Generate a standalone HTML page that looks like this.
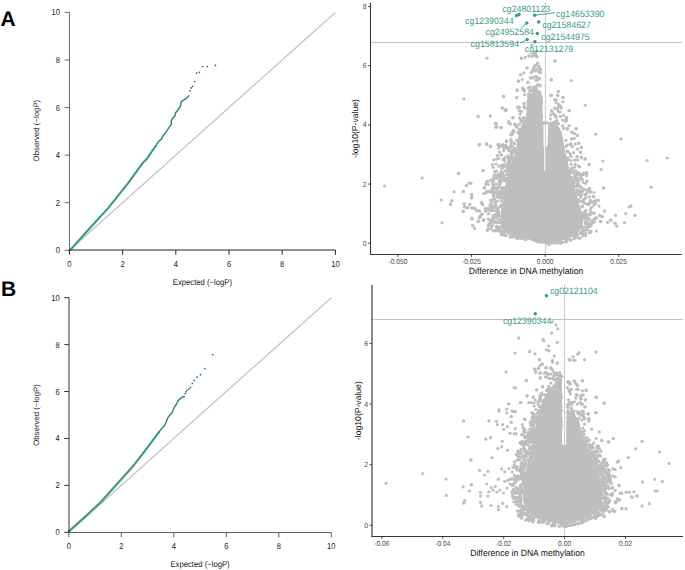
<!DOCTYPE html>
<html><head><meta charset="utf-8"><title>Figure</title><style>html,body{margin:0;padding:0;background:#fff;}svg{display:block;}</style></head><body>
<svg width="685" height="570" viewBox="0 0 685 570" font-family="Liberation Sans, sans-serif" text-rendering="geometricPrecision">
<rect width="685" height="570" fill="#fff"/>
<text x="0.40" y="26.00" font-size="21" text-anchor="start" fill="#000" font-weight="bold">A</text>
<text x="1.00" y="296.00" font-size="21" text-anchor="start" fill="#000" font-weight="bold">B</text>
<line x1="69.40" y1="250.30" x2="335.40" y2="12.40" stroke="#c4c4c4" stroke-width="1.3"/>
<polyline points="69.4,250.3 71.0,249.1 89.3,228.8 108.6,207.6 127.9,183.4 143.4,162.2 146.8,159.0 151.1,152.5 155.4,146.5" fill="none" stroke="#3b9984" stroke-width="2.1" stroke-linejoin="round" stroke-linecap="round"/>
<polyline points="155.4,146.5 158.6,141.3 161.5,139.1 162.1,137.3 165.8,132.4 169.5,126.9 171.3,124.4 171.3,120.7 172.6,118.3 175.0,115.8 175.6,112.7 178.1,109.7 180.5,106.0 181.2,102.3 182.4,100.8 186.1,98.6 188.8,95.8" fill="none" stroke="#2f8472" stroke-width="1.45" stroke-linejoin="round" stroke-linecap="round"/>
<circle cx="190.0" cy="90.9" r="0.85" fill="#226e60"/>
<circle cx="191.2" cy="87.9" r="0.85" fill="#226e60"/>
<circle cx="192.6" cy="86.3" r="0.85" fill="#226e60"/>
<circle cx="194.7" cy="81.6" r="0.85" fill="#226e60"/>
<circle cx="196.7" cy="73.1" r="0.85" fill="#226e60"/>
<circle cx="199.4" cy="72.3" r="0.85" fill="#226e60"/>
<circle cx="202.5" cy="66.5" r="0.85" fill="#226e60"/>
<circle cx="207.3" cy="66.5" r="0.85" fill="#226e60"/>
<circle cx="215.4" cy="65.4" r="0.85" fill="#226e60"/>
<path d="M69.50,250.30V12.40M64.70,250.30H69.50M64.70,202.72H69.50M64.70,155.14H69.50M64.70,107.56H69.50M64.70,59.98H69.50M64.70,12.40H69.50" stroke="#6a6a6a" stroke-width="1" fill="none"/>
<path d="M69.40,250.00H335.40M69.40,250.00V254.80M122.60,250.00V254.80M175.80,250.00V254.80M229.00,250.00V254.80M282.20,250.00V254.80M335.40,250.00V254.80" stroke="#222" stroke-width="1" fill="none"/>
<text transform="translate(60.00 253.30) scale(1 1.13)" font-size="7.6" text-anchor="end" fill="#1a1a1a" font-weight="normal">0</text>
<text transform="translate(69.40 267.00) scale(1 1.13)" font-size="7.6" text-anchor="middle" fill="#1a1a1a" font-weight="normal">0</text>
<text transform="translate(60.00 205.72) scale(1 1.13)" font-size="7.6" text-anchor="end" fill="#1a1a1a" font-weight="normal">2</text>
<text transform="translate(122.60 267.00) scale(1 1.13)" font-size="7.6" text-anchor="middle" fill="#1a1a1a" font-weight="normal">2</text>
<text transform="translate(60.00 158.14) scale(1 1.13)" font-size="7.6" text-anchor="end" fill="#1a1a1a" font-weight="normal">4</text>
<text transform="translate(175.80 267.00) scale(1 1.13)" font-size="7.6" text-anchor="middle" fill="#1a1a1a" font-weight="normal">4</text>
<text transform="translate(60.00 110.56) scale(1 1.13)" font-size="7.6" text-anchor="end" fill="#1a1a1a" font-weight="normal">6</text>
<text transform="translate(229.00 267.00) scale(1 1.13)" font-size="7.6" text-anchor="middle" fill="#1a1a1a" font-weight="normal">6</text>
<text transform="translate(60.00 62.98) scale(1 1.13)" font-size="7.6" text-anchor="end" fill="#1a1a1a" font-weight="normal">8</text>
<text transform="translate(282.20 267.00) scale(1 1.13)" font-size="7.6" text-anchor="middle" fill="#1a1a1a" font-weight="normal">8</text>
<text transform="translate(60.00 15.40) scale(1 1.13)" font-size="7.6" text-anchor="end" fill="#1a1a1a" font-weight="normal">10</text>
<text transform="translate(335.40 267.00) scale(1 1.13)" font-size="7.6" text-anchor="middle" fill="#1a1a1a" font-weight="normal">10</text>
<text transform="translate(202.40 284.70) scale(1 1.1)" font-size="7.7" text-anchor="middle" fill="#1a1a1a" font-weight="normal">Expected (−logP)</text>
<text x="38.70" y="130.60" font-size="7.85" text-anchor="middle" fill="#1a1a1a" font-weight="normal" transform="rotate(-90 38.7 130.6)">Observed (−logP)</text>
<line x1="68.80" y1="532.30" x2="331.30" y2="297.70" stroke="#c4c4c4" stroke-width="1.3"/>
<polyline points="68.8,532.3 68.9,531.3 86.4,515.6 101.1,501.8 115.9,485.2 132.5,466.8 145.3,450.3 150.2,443.9 155.2,437.2 158.9,432.1" fill="none" stroke="#3b9984" stroke-width="2.1" stroke-linejoin="round" stroke-linecap="round"/>
<polyline points="158.9,432.1 161.6,428.6 164.2,426.0 166.0,422.5 167.7,418.1 169.5,415.4 172.1,412.8 173.0,410.2 174.7,406.7 176.5,404.0 178.2,400.5 180.0,398.8 182.6,397.0 184.4,396.5" fill="none" stroke="#2f8472" stroke-width="1.45" stroke-linejoin="round" stroke-linecap="round"/>
<circle cx="185.3" cy="393.6" r="0.85" fill="#226e60"/>
<circle cx="186.1" cy="391.8" r="0.85" fill="#226e60"/>
<circle cx="187.0" cy="390.0" r="0.85" fill="#226e60"/>
<circle cx="188.8" cy="388.8" r="0.85" fill="#226e60"/>
<circle cx="190.5" cy="387.4" r="0.85" fill="#226e60"/>
<circle cx="192.3" cy="383.5" r="0.85" fill="#226e60"/>
<circle cx="194.2" cy="380.4" r="0.85" fill="#226e60"/>
<circle cx="197.0" cy="377.2" r="0.85" fill="#226e60"/>
<circle cx="200.5" cy="374.7" r="0.85" fill="#226e60"/>
<circle cx="204.9" cy="368.6" r="0.85" fill="#226e60"/>
<circle cx="212.8" cy="354.6" r="0.85" fill="#226e60"/>
<path d="M69.00,532.30V297.70M64.20,532.30H69.00M64.20,485.38H69.00M64.20,438.46H69.00M64.20,391.54H69.00M64.20,344.62H69.00M64.20,297.70H69.00" stroke="#303030" stroke-width="1" fill="none"/>
<path d="M68.80,532.50H331.30M68.80,532.50V537.30M121.30,532.50V537.30M173.80,532.50V537.30M226.30,532.50V537.30M278.80,532.50V537.30M331.30,532.50V537.30" stroke="#606060" stroke-width="1" fill="none"/>
<text transform="translate(59.70 535.30) scale(1 1.13)" font-size="7.6" text-anchor="end" fill="#1a1a1a" font-weight="normal">0</text>
<text transform="translate(68.80 549.00) scale(1 1.13)" font-size="7.6" text-anchor="middle" fill="#1a1a1a" font-weight="normal">0</text>
<text transform="translate(59.70 488.38) scale(1 1.13)" font-size="7.6" text-anchor="end" fill="#1a1a1a" font-weight="normal">2</text>
<text transform="translate(121.30 549.00) scale(1 1.13)" font-size="7.6" text-anchor="middle" fill="#1a1a1a" font-weight="normal">2</text>
<text transform="translate(59.70 441.46) scale(1 1.13)" font-size="7.6" text-anchor="end" fill="#1a1a1a" font-weight="normal">4</text>
<text transform="translate(173.80 549.00) scale(1 1.13)" font-size="7.6" text-anchor="middle" fill="#1a1a1a" font-weight="normal">4</text>
<text transform="translate(59.70 394.54) scale(1 1.13)" font-size="7.6" text-anchor="end" fill="#1a1a1a" font-weight="normal">6</text>
<text transform="translate(226.30 549.00) scale(1 1.13)" font-size="7.6" text-anchor="middle" fill="#1a1a1a" font-weight="normal">6</text>
<text transform="translate(59.70 347.62) scale(1 1.13)" font-size="7.6" text-anchor="end" fill="#1a1a1a" font-weight="normal">8</text>
<text transform="translate(278.80 549.00) scale(1 1.13)" font-size="7.6" text-anchor="middle" fill="#1a1a1a" font-weight="normal">8</text>
<text transform="translate(59.70 300.70) scale(1 1.13)" font-size="7.6" text-anchor="end" fill="#1a1a1a" font-weight="normal">10</text>
<text transform="translate(331.30 549.00) scale(1 1.13)" font-size="7.6" text-anchor="middle" fill="#1a1a1a" font-weight="normal">10</text>
<text transform="translate(200.05 567.30) scale(1 1.1)" font-size="7.7" text-anchor="middle" fill="#1a1a1a" font-weight="normal">Expected (−logP)</text>
<text x="39.20" y="415.00" font-size="7.85" text-anchor="middle" fill="#1a1a1a" font-weight="normal" transform="rotate(-90 39.2 414.99999999999994)">Observed (−logP)</text>
<line x1="545.40" y1="2.60" x2="545.40" y2="254.50" stroke="#c6c6c6" stroke-width="1"/>
<g fill="#bebebe"><path d="M527.6,97.0L530.0,93.5L535.0,92.5L540.0,93.0L542.6,96.0L542.6,121.0L543.5,121.0L543.5,146.0L544.1,147.0L544.1,170.0L545.0,171.5L545.9,170.0L545.9,147.0L547.4,146.0L547.8,138.0L548.2,126.0L549.0,122.5L551.5,121.8L554.0,122.5L557.0,124.5L559.5,128.0L561.5,132.0L562.5,136.0L564.0,145.0L566.0,155.0L568.5,165.0L571.0,175.0L574.0,185.0L577.0,195.0L579.5,205.0L582.0,213.0L583.5,221.0L582.0,228.0L577.0,234.0L570.0,238.0L560.0,241.0L550.0,243.0L545.0,243.8L538.0,243.5L529.4,239.8L522.4,238.2L515.4,236.6L508.4,234.6L503.0,231.5L500.8,227.0L500.5,220.0L501.0,210.0L502.5,200.0L504.6,190.0L506.0,180.0L508.1,173.0L510.2,166.0L512.3,159.0L515.8,152.0L516.5,145.0L517.9,138.0L519.3,131.0L522.1,124.0L525.0,119.0L526.5,112.0L526.5,104.0Z"/><circle cx="513.0" cy="236.9" r="1.6"/><circle cx="512.2" cy="157.0" r="1.6"/><circle cx="506.4" cy="174.4" r="1.6"/><circle cx="540.1" cy="92.4" r="1.6"/><circle cx="498.9" cy="186.4" r="1.6"/><circle cx="498.3" cy="192.9" r="1.6"/><circle cx="494.5" cy="174.8" r="1.6"/><circle cx="494.9" cy="188.1" r="1.6"/><circle cx="500.1" cy="182.6" r="1.6"/><circle cx="498.8" cy="215.2" r="1.6"/><circle cx="499.9" cy="197.1" r="1.6"/><circle cx="503.1" cy="192.7" r="1.6"/><circle cx="493.2" cy="220.4" r="1.6"/><circle cx="503.8" cy="232.7" r="1.6"/><circle cx="496.8" cy="216.1" r="1.6"/><circle cx="535.0" cy="90.9" r="1.6"/><circle cx="499.7" cy="222.5" r="1.6"/><circle cx="524.9" cy="108.1" r="1.6"/><circle cx="535.8" cy="88.7" r="1.6"/><circle cx="511.4" cy="156.5" r="1.6"/><circle cx="499.9" cy="182.7" r="1.6"/><circle cx="502.5" cy="168.0" r="1.6"/><circle cx="508.9" cy="157.4" r="1.6"/><circle cx="501.2" cy="172.8" r="1.6"/><circle cx="514.5" cy="148.1" r="1.6"/><circle cx="496.5" cy="218.3" r="1.6"/><circle cx="500.3" cy="230.7" r="1.6"/><circle cx="497.1" cy="194.8" r="1.6"/><circle cx="508.4" cy="168.3" r="1.6"/><circle cx="493.6" cy="230.7" r="1.6"/><circle cx="499.4" cy="178.4" r="1.6"/><circle cx="506.1" cy="235.5" r="1.6"/><circle cx="514.7" cy="150.2" r="1.6"/><circle cx="505.3" cy="145.2" r="1.6"/><circle cx="496.3" cy="189.4" r="1.6"/><circle cx="505.5" cy="180.7" r="1.6"/><circle cx="496.4" cy="207.4" r="1.6"/><circle cx="492.4" cy="201.7" r="1.6"/><circle cx="498.5" cy="230.7" r="1.6"/><circle cx="507.5" cy="168.3" r="1.6"/><circle cx="498.6" cy="211.3" r="1.6"/><circle cx="495.9" cy="184.2" r="1.6"/><circle cx="502.2" cy="231.9" r="1.6"/><circle cx="507.2" cy="163.5" r="1.6"/><circle cx="493.7" cy="196.5" r="1.6"/><circle cx="508.5" cy="170.0" r="1.6"/><circle cx="498.5" cy="196.2" r="1.6"/><circle cx="488.0" cy="225.6" r="1.6"/><circle cx="513.4" cy="150.2" r="1.6"/><circle cx="495.7" cy="216.8" r="1.6"/><circle cx="510.1" cy="237.1" r="1.6"/><circle cx="490.4" cy="191.6" r="1.6"/><circle cx="501.0" cy="193.4" r="1.6"/><circle cx="496.7" cy="213.9" r="1.6"/><circle cx="511.9" cy="155.1" r="1.6"/><circle cx="514.5" cy="143.8" r="1.6"/><circle cx="520.1" cy="114.0" r="1.6"/><circle cx="519.3" cy="129.0" r="1.6"/><circle cx="533.9" cy="90.8" r="1.6"/><circle cx="504.0" cy="179.4" r="1.6"/><circle cx="501.0" cy="201.1" r="1.6"/><circle cx="521.3" cy="121.2" r="1.6"/><circle cx="490.2" cy="221.4" r="1.6"/><circle cx="496.5" cy="171.2" r="1.6"/><circle cx="518.8" cy="131.0" r="1.6"/><circle cx="496.7" cy="230.1" r="1.6"/><circle cx="493.5" cy="192.9" r="1.6"/><circle cx="505.2" cy="179.4" r="1.6"/><circle cx="497.1" cy="226.4" r="1.6"/><circle cx="493.3" cy="194.0" r="1.6"/><circle cx="521.4" cy="238.5" r="1.6"/><circle cx="500.1" cy="196.5" r="1.6"/><circle cx="504.9" cy="179.7" r="1.6"/><circle cx="517.7" cy="132.7" r="1.6"/><circle cx="492.8" cy="189.8" r="1.6"/><circle cx="493.6" cy="217.7" r="1.6"/><circle cx="494.0" cy="193.5" r="1.6"/><circle cx="497.9" cy="208.3" r="1.6"/><circle cx="502.3" cy="198.0" r="1.6"/><circle cx="498.5" cy="215.7" r="1.6"/><circle cx="503.1" cy="190.1" r="1.6"/><circle cx="510.3" cy="148.0" r="1.6"/><circle cx="504.2" cy="165.8" r="1.6"/><circle cx="493.2" cy="199.0" r="1.6"/><circle cx="499.0" cy="229.7" r="1.6"/><circle cx="503.7" cy="164.4" r="1.6"/><circle cx="503.3" cy="176.2" r="1.6"/><circle cx="491.1" cy="210.9" r="1.6"/><circle cx="524.6" cy="94.7" r="1.6"/><circle cx="508.9" cy="160.7" r="1.6"/><circle cx="498.8" cy="191.9" r="1.6"/><circle cx="511.1" cy="140.5" r="1.6"/><circle cx="517.7" cy="238.0" r="1.6"/><circle cx="509.5" cy="162.5" r="1.6"/><circle cx="494.4" cy="230.9" r="1.6"/><circle cx="513.9" cy="143.3" r="1.6"/><circle cx="496.7" cy="227.3" r="1.6"/><circle cx="500.0" cy="228.6" r="1.6"/><circle cx="501.6" cy="193.6" r="1.6"/><circle cx="503.0" cy="166.9" r="1.6"/><circle cx="499.3" cy="215.9" r="1.6"/><circle cx="501.7" cy="154.9" r="1.6"/><circle cx="519.6" cy="124.2" r="1.6"/><circle cx="502.5" cy="198.2" r="1.6"/><circle cx="492.2" cy="220.4" r="1.6"/><circle cx="502.6" cy="231.9" r="1.6"/><circle cx="495.5" cy="206.4" r="1.6"/><circle cx="502.6" cy="191.9" r="1.6"/><circle cx="494.0" cy="223.2" r="1.6"/><circle cx="511.8" cy="156.8" r="1.6"/><circle cx="508.6" cy="147.3" r="1.6"/><circle cx="498.8" cy="215.8" r="1.6"/><circle cx="514.0" cy="148.7" r="1.6"/><circle cx="499.6" cy="219.7" r="1.6"/><circle cx="503.2" cy="179.3" r="1.6"/><circle cx="492.9" cy="192.6" r="1.6"/><circle cx="493.0" cy="184.8" r="1.6"/><circle cx="494.7" cy="199.1" r="1.6"/><circle cx="498.5" cy="228.9" r="1.6"/><circle cx="501.0" cy="171.7" r="1.6"/><circle cx="505.9" cy="178.7" r="1.6"/><circle cx="511.2" cy="154.4" r="1.6"/><circle cx="536.3" cy="88.7" r="1.6"/><circle cx="497.1" cy="222.5" r="1.6"/><circle cx="503.0" cy="194.2" r="1.6"/><circle cx="493.4" cy="178.0" r="1.6"/><circle cx="502.8" cy="234.4" r="1.6"/><circle cx="500.0" cy="178.7" r="1.6"/><circle cx="498.2" cy="222.1" r="1.6"/><circle cx="502.5" cy="172.8" r="1.6"/><circle cx="490.6" cy="209.4" r="1.6"/><circle cx="502.6" cy="180.1" r="1.6"/><circle cx="494.8" cy="171.3" r="1.6"/><circle cx="524.0" cy="103.4" r="1.6"/><circle cx="491.2" cy="220.0" r="1.6"/><circle cx="503.2" cy="233.3" r="1.6"/><circle cx="519.3" cy="110.4" r="1.6"/><circle cx="499.2" cy="182.3" r="1.6"/><circle cx="498.1" cy="208.6" r="1.6"/><circle cx="504.3" cy="235.3" r="1.6"/><circle cx="490.5" cy="192.1" r="1.6"/><circle cx="499.6" cy="176.0" r="1.6"/><circle cx="504.4" cy="180.3" r="1.6"/><circle cx="488.4" cy="218.9" r="1.6"/><circle cx="495.1" cy="230.4" r="1.6"/><circle cx="516.2" cy="238.1" r="1.6"/><circle cx="509.4" cy="166.5" r="1.6"/><circle cx="536.2" cy="92.0" r="1.6"/><circle cx="507.9" cy="171.1" r="1.6"/><circle cx="524.5" cy="239.1" r="1.6"/><circle cx="509.3" cy="150.9" r="1.6"/><circle cx="490.0" cy="206.1" r="1.6"/><circle cx="490.5" cy="223.4" r="1.6"/><circle cx="504.8" cy="179.2" r="1.6"/><circle cx="505.0" cy="170.9" r="1.6"/><circle cx="492.6" cy="182.9" r="1.6"/><circle cx="528.8" cy="93.8" r="1.6"/><circle cx="515.3" cy="151.7" r="1.6"/><circle cx="508.5" cy="158.7" r="1.6"/><circle cx="509.9" cy="160.9" r="1.6"/><circle cx="496.3" cy="226.7" r="1.6"/><circle cx="490.4" cy="200.1" r="1.6"/><circle cx="492.5" cy="188.3" r="1.6"/><circle cx="511.5" cy="155.5" r="1.6"/><circle cx="511.1" cy="151.7" r="1.6"/><circle cx="487.7" cy="208.2" r="1.6"/><circle cx="499.7" cy="193.7" r="1.6"/><circle cx="501.1" cy="205.2" r="1.6"/><circle cx="501.7" cy="168.2" r="1.6"/><circle cx="498.3" cy="187.4" r="1.6"/><circle cx="502.2" cy="190.5" r="1.6"/><circle cx="499.7" cy="184.6" r="1.6"/><circle cx="510.8" cy="236.4" r="1.6"/><circle cx="532.2" cy="91.0" r="1.6"/><circle cx="502.4" cy="188.4" r="1.6"/><circle cx="506.7" cy="148.5" r="1.6"/><circle cx="504.1" cy="187.5" r="1.6"/><circle cx="505.8" cy="235.3" r="1.6"/><circle cx="494.8" cy="192.2" r="1.6"/><circle cx="508.4" cy="149.6" r="1.6"/><circle cx="519.5" cy="117.9" r="1.6"/><circle cx="507.5" cy="165.4" r="1.6"/><circle cx="498.6" cy="212.6" r="1.6"/><circle cx="505.5" cy="178.8" r="1.6"/><circle cx="506.6" cy="171.2" r="1.6"/><circle cx="506.3" cy="146.1" r="1.6"/><circle cx="495.9" cy="178.6" r="1.6"/><circle cx="512.0" cy="146.2" r="1.6"/><circle cx="498.6" cy="158.4" r="1.6"/><circle cx="511.4" cy="146.0" r="1.6"/><circle cx="502.3" cy="176.3" r="1.6"/><circle cx="516.6" cy="140.5" r="1.6"/><circle cx="490.5" cy="210.2" r="1.6"/><circle cx="495.5" cy="176.0" r="1.6"/><circle cx="492.0" cy="189.1" r="1.6"/><circle cx="493.5" cy="181.2" r="1.6"/><circle cx="497.6" cy="214.5" r="1.6"/><circle cx="505.9" cy="178.1" r="1.6"/><circle cx="491.6" cy="205.3" r="1.6"/><circle cx="507.6" cy="164.9" r="1.6"/><circle cx="491.7" cy="205.4" r="1.6"/><circle cx="497.3" cy="176.2" r="1.6"/><circle cx="511.5" cy="159.1" r="1.6"/><circle cx="493.1" cy="179.9" r="1.6"/><circle cx="518.3" cy="238.4" r="1.6"/><circle cx="505.6" cy="166.2" r="1.6"/><circle cx="498.2" cy="193.9" r="1.6"/><circle cx="493.1" cy="215.7" r="1.6"/><circle cx="508.7" cy="159.9" r="1.6"/><circle cx="497.2" cy="189.6" r="1.6"/><circle cx="509.6" cy="163.8" r="1.6"/><circle cx="493.7" cy="222.6" r="1.6"/><circle cx="525.9" cy="239.6" r="1.6"/><circle cx="501.5" cy="175.6" r="1.6"/><circle cx="512.4" cy="150.7" r="1.6"/><circle cx="493.0" cy="185.7" r="1.6"/><circle cx="503.3" cy="233.4" r="1.6"/><circle cx="495.5" cy="204.3" r="1.6"/><circle cx="503.2" cy="159.3" r="1.6"/><circle cx="503.1" cy="190.1" r="1.6"/><circle cx="505.1" cy="146.6" r="1.6"/><circle cx="495.5" cy="221.5" r="1.6"/><circle cx="502.6" cy="231.6" r="1.6"/><circle cx="503.7" cy="150.6" r="1.6"/><circle cx="511.4" cy="141.6" r="1.6"/><circle cx="500.4" cy="226.9" r="1.6"/><circle cx="512.8" cy="152.8" r="1.6"/><circle cx="503.8" cy="179.6" r="1.6"/><circle cx="499.5" cy="197.8" r="1.6"/><circle cx="497.2" cy="196.8" r="1.6"/><circle cx="498.2" cy="174.3" r="1.6"/><circle cx="516.4" cy="237.3" r="1.6"/><circle cx="501.1" cy="175.8" r="1.6"/><circle cx="501.3" cy="234.7" r="1.6"/><circle cx="502.7" cy="176.4" r="1.6"/><circle cx="491.4" cy="208.2" r="1.6"/><circle cx="502.2" cy="175.9" r="1.6"/><circle cx="504.7" cy="160.8" r="1.6"/><circle cx="514.7" cy="124.0" r="1.6"/><circle cx="523.0" cy="120.1" r="1.6"/><circle cx="499.1" cy="181.6" r="1.6"/><circle cx="499.3" cy="178.3" r="1.6"/><circle cx="502.3" cy="194.7" r="1.6"/><circle cx="499.2" cy="194.9" r="1.6"/><circle cx="495.1" cy="206.9" r="1.6"/><circle cx="501.0" cy="187.8" r="1.6"/><circle cx="500.3" cy="232.0" r="1.6"/><circle cx="503.7" cy="187.6" r="1.6"/><circle cx="490.3" cy="204.0" r="1.6"/><circle cx="502.8" cy="146.4" r="1.6"/><circle cx="492.3" cy="205.5" r="1.6"/><circle cx="501.1" cy="191.0" r="1.6"/><circle cx="500.6" cy="181.7" r="1.6"/><circle cx="514.5" cy="150.4" r="1.6"/><circle cx="507.6" cy="155.9" r="1.6"/><circle cx="488.6" cy="213.9" r="1.6"/><circle cx="497.3" cy="201.0" r="1.6"/><circle cx="503.6" cy="175.7" r="1.6"/><circle cx="520.8" cy="119.8" r="1.6"/><circle cx="500.0" cy="206.4" r="1.6"/><circle cx="587.3" cy="229.7" r="1.6"/><circle cx="590.7" cy="231.1" r="1.6"/><circle cx="582.3" cy="205.9" r="1.6"/><circle cx="560.8" cy="241.9" r="1.6"/><circle cx="576.9" cy="192.3" r="1.6"/><circle cx="579.5" cy="186.2" r="1.6"/><circle cx="575.3" cy="164.4" r="1.6"/><circle cx="556.4" cy="123.3" r="1.6"/><circle cx="562.6" cy="125.9" r="1.6"/><circle cx="587.7" cy="219.5" r="1.6"/><circle cx="586.0" cy="210.4" r="1.6"/><circle cx="583.2" cy="182.3" r="1.6"/><circle cx="587.2" cy="204.2" r="1.6"/><circle cx="583.1" cy="235.7" r="1.6"/><circle cx="575.8" cy="175.0" r="1.6"/><circle cx="572.8" cy="170.2" r="1.6"/><circle cx="579.7" cy="166.8" r="1.6"/><circle cx="573.8" cy="238.7" r="1.6"/><circle cx="558.9" cy="241.6" r="1.6"/><circle cx="588.8" cy="227.2" r="1.6"/><circle cx="583.0" cy="190.8" r="1.6"/><circle cx="571.0" cy="170.4" r="1.6"/><circle cx="583.0" cy="200.6" r="1.6"/><circle cx="552.3" cy="243.2" r="1.6"/><circle cx="555.9" cy="117.6" r="1.6"/><circle cx="582.5" cy="179.5" r="1.6"/><circle cx="574.4" cy="183.0" r="1.6"/><circle cx="575.9" cy="171.2" r="1.6"/><circle cx="561.1" cy="242.0" r="1.6"/><circle cx="587.4" cy="222.8" r="1.6"/><circle cx="575.3" cy="236.4" r="1.6"/><circle cx="577.5" cy="234.5" r="1.6"/><circle cx="571.5" cy="168.0" r="1.6"/><circle cx="583.6" cy="215.3" r="1.6"/><circle cx="586.1" cy="216.3" r="1.6"/><circle cx="580.9" cy="191.6" r="1.6"/><circle cx="580.5" cy="197.5" r="1.6"/><circle cx="578.2" cy="193.3" r="1.6"/><circle cx="578.0" cy="194.4" r="1.6"/><circle cx="573.6" cy="152.7" r="1.6"/><circle cx="588.6" cy="224.8" r="1.6"/><circle cx="584.7" cy="198.8" r="1.6"/><circle cx="575.2" cy="144.1" r="1.6"/><circle cx="577.1" cy="189.8" r="1.6"/><circle cx="583.1" cy="227.1" r="1.6"/><circle cx="567.4" cy="157.8" r="1.6"/><circle cx="587.5" cy="214.6" r="1.6"/><circle cx="578.2" cy="185.2" r="1.6"/><circle cx="574.9" cy="180.1" r="1.6"/><circle cx="561.2" cy="242.7" r="1.6"/><circle cx="571.4" cy="172.4" r="1.6"/><circle cx="558.5" cy="123.7" r="1.6"/><circle cx="581.7" cy="233.3" r="1.6"/><circle cx="588.8" cy="203.2" r="1.6"/><circle cx="572.2" cy="177.3" r="1.6"/><circle cx="582.1" cy="201.8" r="1.6"/><circle cx="574.3" cy="138.3" r="1.6"/><circle cx="579.6" cy="180.1" r="1.6"/><circle cx="583.1" cy="215.1" r="1.6"/><circle cx="593.8" cy="205.5" r="1.6"/><circle cx="583.9" cy="189.2" r="1.6"/><circle cx="586.0" cy="214.6" r="1.6"/><circle cx="573.1" cy="179.3" r="1.6"/><circle cx="580.4" cy="238.0" r="1.6"/><circle cx="567.0" cy="239.9" r="1.6"/><circle cx="581.0" cy="174.8" r="1.6"/><circle cx="584.8" cy="212.5" r="1.6"/><circle cx="574.5" cy="167.3" r="1.6"/><circle cx="590.6" cy="212.2" r="1.6"/><circle cx="577.6" cy="160.0" r="1.6"/><circle cx="578.7" cy="193.9" r="1.6"/><circle cx="584.8" cy="212.6" r="1.6"/><circle cx="582.1" cy="206.9" r="1.6"/><circle cx="574.6" cy="160.1" r="1.6"/><circle cx="583.4" cy="233.8" r="1.6"/><circle cx="570.0" cy="153.6" r="1.6"/><circle cx="571.2" cy="171.2" r="1.6"/><circle cx="547.6" cy="243.8" r="1.6"/><circle cx="576.7" cy="235.7" r="1.6"/><circle cx="568.0" cy="151.8" r="1.6"/><circle cx="585.7" cy="227.0" r="1.6"/><circle cx="583.9" cy="213.7" r="1.6"/><circle cx="578.4" cy="166.1" r="1.6"/><circle cx="567.3" cy="145.2" r="1.6"/><circle cx="592.8" cy="223.0" r="1.6"/><circle cx="575.8" cy="237.7" r="1.6"/><circle cx="585.7" cy="183.5" r="1.6"/><circle cx="568.1" cy="159.4" r="1.6"/><circle cx="576.8" cy="179.1" r="1.6"/><circle cx="594.2" cy="221.9" r="1.6"/><circle cx="593.9" cy="192.5" r="1.6"/><circle cx="591.2" cy="223.8" r="1.6"/><circle cx="585.6" cy="235.7" r="1.6"/><circle cx="586.8" cy="230.1" r="1.6"/><circle cx="577.2" cy="184.0" r="1.6"/><circle cx="562.5" cy="242.4" r="1.6"/><circle cx="598.4" cy="200.4" r="1.6"/><circle cx="580.5" cy="232.7" r="1.6"/><circle cx="590.1" cy="213.7" r="1.6"/><circle cx="570.4" cy="239.8" r="1.6"/><circle cx="580.2" cy="174.6" r="1.6"/><circle cx="581.6" cy="233.3" r="1.6"/><circle cx="581.8" cy="231.8" r="1.6"/><circle cx="579.1" cy="238.2" r="1.6"/><circle cx="584.5" cy="216.2" r="1.6"/><circle cx="583.6" cy="234.1" r="1.6"/><circle cx="585.8" cy="221.7" r="1.6"/><circle cx="557.3" cy="242.9" r="1.6"/><circle cx="578.8" cy="192.7" r="1.6"/><circle cx="586.6" cy="175.4" r="1.6"/><circle cx="580.2" cy="195.8" r="1.6"/><circle cx="563.9" cy="128.4" r="1.6"/><circle cx="575.7" cy="177.3" r="1.6"/><circle cx="585.7" cy="194.4" r="1.6"/><circle cx="583.3" cy="234.4" r="1.6"/><circle cx="589.0" cy="203.3" r="1.6"/><circle cx="584.5" cy="218.8" r="1.6"/><circle cx="576.7" cy="186.4" r="1.6"/><circle cx="583.5" cy="217.5" r="1.6"/><circle cx="581.4" cy="233.0" r="1.6"/><circle cx="585.6" cy="222.6" r="1.6"/><circle cx="590.4" cy="191.5" r="1.6"/><circle cx="578.3" cy="174.5" r="1.6"/><circle cx="570.5" cy="171.5" r="1.6"/><circle cx="567.4" cy="151.2" r="1.6"/><circle cx="583.3" cy="173.2" r="1.6"/><circle cx="577.7" cy="177.9" r="1.6"/><circle cx="584.7" cy="211.5" r="1.6"/><circle cx="573.7" cy="182.4" r="1.6"/><circle cx="570.7" cy="240.4" r="1.6"/><circle cx="585.7" cy="224.1" r="1.6"/><circle cx="578.6" cy="172.6" r="1.6"/><circle cx="571.2" cy="169.0" r="1.6"/><circle cx="569.2" cy="125.7" r="1.6"/><circle cx="591.6" cy="213.2" r="1.6"/><circle cx="589.1" cy="219.1" r="1.6"/><circle cx="578.6" cy="184.1" r="1.6"/><circle cx="549.3" cy="244.6" r="1.6"/><circle cx="579.6" cy="189.8" r="1.6"/><circle cx="584.4" cy="203.1" r="1.6"/><circle cx="574.8" cy="175.2" r="1.6"/><circle cx="583.9" cy="230.2" r="1.6"/><circle cx="571.3" cy="164.2" r="1.6"/><circle cx="578.6" cy="200.3" r="1.6"/><circle cx="577.4" cy="149.2" r="1.6"/><circle cx="579.7" cy="201.3" r="1.6"/><circle cx="566.1" cy="242.2" r="1.6"/><circle cx="591.1" cy="225.8" r="1.6"/><circle cx="588.3" cy="223.5" r="1.6"/><circle cx="565.6" cy="240.7" r="1.6"/><circle cx="573.7" cy="172.8" r="1.6"/><circle cx="588.8" cy="225.3" r="1.6"/><circle cx="576.7" cy="235.0" r="1.6"/><circle cx="555.5" cy="242.9" r="1.6"/><circle cx="576.7" cy="179.3" r="1.6"/><circle cx="582.4" cy="229.7" r="1.6"/><circle cx="591.0" cy="231.9" r="1.6"/><circle cx="589.1" cy="232.8" r="1.6"/><circle cx="585.9" cy="197.9" r="1.6"/><circle cx="577.6" cy="184.4" r="1.6"/><circle cx="595.5" cy="203.7" r="1.6"/><circle cx="565.7" cy="121.5" r="1.6"/><circle cx="560.7" cy="243.2" r="1.6"/><circle cx="557.5" cy="242.4" r="1.6"/><circle cx="586.6" cy="193.4" r="1.6"/><circle cx="569.5" cy="239.5" r="1.6"/><circle cx="572.5" cy="170.4" r="1.6"/><circle cx="587.7" cy="217.8" r="1.6"/><circle cx="585.5" cy="233.3" r="1.6"/><circle cx="583.6" cy="200.1" r="1.6"/><circle cx="574.8" cy="186.1" r="1.6"/><circle cx="577.6" cy="181.7" r="1.6"/><circle cx="570.9" cy="160.6" r="1.6"/><circle cx="574.4" cy="236.7" r="1.6"/><circle cx="584.8" cy="195.0" r="1.6"/><circle cx="590.8" cy="221.7" r="1.6"/><circle cx="581.5" cy="187.4" r="1.6"/><circle cx="582.9" cy="213.4" r="1.6"/><circle cx="590.5" cy="200.3" r="1.6"/><circle cx="589.3" cy="196.9" r="1.6"/><circle cx="558.3" cy="111.4" r="1.6"/><circle cx="558.4" cy="106.5" r="1.6"/><circle cx="562.6" cy="120.1" r="1.6"/><circle cx="557.4" cy="109.2" r="1.6"/><circle cx="552.5" cy="123.0" r="1.6"/><circle cx="563.5" cy="115.3" r="1.6"/><circle cx="554.9" cy="108.2" r="1.6"/><circle cx="560.1" cy="112.1" r="1.6"/><circle cx="560.3" cy="116.6" r="1.6"/><circle cx="550.4" cy="118.9" r="1.6"/><circle cx="554.6" cy="121.8" r="1.6"/><circle cx="553.7" cy="114.1" r="1.6"/><circle cx="534.2" cy="91.3" r="1.6"/><circle cx="535.1" cy="91.6" r="1.6"/><circle cx="530.0" cy="90.7" r="1.6"/><circle cx="537.1" cy="94.3" r="1.6"/><circle cx="528.5" cy="87.9" r="1.6"/><circle cx="528.5" cy="94.5" r="1.6"/><circle cx="538.1" cy="84.5" r="1.6"/><circle cx="537.5" cy="92.0" r="1.6"/><circle cx="530.0" cy="87.1" r="1.6"/><circle cx="534.0" cy="95.0" r="1.6"/><circle cx="535.3" cy="92.3" r="1.6"/><circle cx="535.0" cy="92.6" r="1.6"/><circle cx="540.8" cy="101.6" r="1.6"/><circle cx="541.2" cy="130.2" r="1.6"/><circle cx="540.9" cy="101.6" r="1.6"/><circle cx="541.0" cy="133.9" r="1.6"/><circle cx="540.9" cy="133.0" r="1.6"/><circle cx="541.5" cy="102.8" r="1.6"/><circle cx="541.3" cy="118.4" r="1.6"/><circle cx="541.2" cy="145.8" r="1.6"/><circle cx="540.9" cy="97.0" r="1.6"/><circle cx="541.7" cy="116.1" r="1.6"/><circle cx="549.3" cy="130.3" r="1.6"/><circle cx="549.5" cy="144.0" r="1.6"/><circle cx="549.7" cy="140.4" r="1.6"/><circle cx="549.3" cy="136.2" r="1.6"/><circle cx="550.0" cy="136.5" r="1.6"/><circle cx="384.6" cy="186.1" r="1.6"/><circle cx="422.1" cy="178.1" r="1.6"/><circle cx="458.6" cy="173.3" r="1.6"/><circle cx="466.5" cy="185.4" r="1.6"/><circle cx="469.1" cy="183.0" r="1.6"/><circle cx="454.0" cy="191.8" r="1.6"/><circle cx="463.3" cy="191.6" r="1.6"/><circle cx="441.1" cy="200.0" r="1.6"/><circle cx="451.8" cy="200.9" r="1.6"/><circle cx="450.4" cy="204.4" r="1.6"/><circle cx="464.2" cy="203.9" r="1.6"/><circle cx="464.7" cy="207.0" r="1.6"/><circle cx="467.4" cy="207.9" r="1.6"/><circle cx="469.5" cy="204.4" r="1.6"/><circle cx="463.3" cy="211.4" r="1.6"/><circle cx="441.9" cy="222.8" r="1.6"/><circle cx="463.4" cy="191.4" r="1.6"/><circle cx="471.6" cy="194.7" r="1.6"/><circle cx="471.6" cy="197.9" r="1.6"/><circle cx="451.8" cy="200.5" r="1.6"/><circle cx="450.6" cy="204.0" r="1.6"/><circle cx="464.0" cy="203.8" r="1.6"/><circle cx="464.6" cy="206.9" r="1.6"/><circle cx="467.5" cy="207.5" r="1.6"/><circle cx="469.9" cy="204.6" r="1.6"/><circle cx="471.6" cy="208.1" r="1.6"/><circle cx="474.5" cy="208.7" r="1.6"/><circle cx="476.9" cy="211.0" r="1.6"/><circle cx="479.8" cy="211.0" r="1.6"/><circle cx="463.2" cy="211.3" r="1.6"/><circle cx="481.5" cy="202.3" r="1.6"/><circle cx="482.7" cy="204.6" r="1.6"/><circle cx="485.0" cy="208.7" r="1.6"/><circle cx="488.0" cy="209.9" r="1.6"/><circle cx="485.6" cy="211.6" r="1.6"/><circle cx="493.2" cy="210.4" r="1.6"/><circle cx="496.7" cy="210.4" r="1.6"/><circle cx="495.5" cy="202.3" r="1.6"/><circle cx="481.5" cy="214.5" r="1.6"/><circle cx="480.4" cy="216.9" r="1.6"/><circle cx="479.2" cy="217.4" r="1.6"/><circle cx="483.9" cy="219.8" r="1.6"/><circle cx="472.2" cy="219.0" r="1.6"/><circle cx="478.0" cy="221.5" r="1.6"/><circle cx="489.1" cy="223.9" r="1.6"/><circle cx="492.0" cy="226.2" r="1.6"/><circle cx="488.5" cy="228.5" r="1.6"/><circle cx="487.4" cy="230.3" r="1.6"/><circle cx="490.9" cy="229.1" r="1.6"/><circle cx="472.8" cy="225.6" r="1.6"/><circle cx="474.5" cy="228.5" r="1.6"/><circle cx="497.9" cy="227.4" r="1.6"/><circle cx="483.9" cy="193.5" r="1.6"/><circle cx="486.2" cy="191.8" r="1.6"/><circle cx="488.5" cy="191.2" r="1.6"/><circle cx="493.8" cy="195.8" r="1.6"/><circle cx="493.2" cy="192.3" r="1.6"/><circle cx="495.5" cy="192.3" r="1.6"/><circle cx="483.2" cy="170.7" r="1.6"/><circle cx="487.5" cy="181.6" r="1.6"/><circle cx="485.8" cy="184.2" r="1.6"/><circle cx="484.0" cy="187.7" r="1.6"/><circle cx="488.4" cy="191.2" r="1.6"/><circle cx="485.8" cy="193.0" r="1.6"/><circle cx="470.9" cy="183.3" r="1.6"/><circle cx="471.8" cy="194.7" r="1.6"/><circle cx="471.8" cy="197.4" r="1.6"/><circle cx="481.4" cy="202.6" r="1.6"/><circle cx="482.3" cy="204.4" r="1.6"/><circle cx="475.3" cy="208.8" r="1.6"/><circle cx="478.8" cy="210.5" r="1.6"/><circle cx="473.5" cy="207.9" r="1.6"/><circle cx="485.8" cy="209.6" r="1.6"/><circle cx="492.8" cy="210.5" r="1.6"/><circle cx="496.3" cy="211.4" r="1.6"/><circle cx="471.8" cy="218.4" r="1.6"/><circle cx="478.8" cy="221.0" r="1.6"/><circle cx="483.2" cy="220.2" r="1.6"/><circle cx="480.5" cy="215.8" r="1.6"/><circle cx="482.3" cy="214.0" r="1.6"/><circle cx="492.8" cy="217.5" r="1.6"/><circle cx="494.6" cy="214.9" r="1.6"/><circle cx="496.3" cy="221.9" r="1.6"/><circle cx="472.6" cy="225.4" r="1.6"/><circle cx="474.4" cy="228.1" r="1.6"/><circle cx="487.5" cy="229.8" r="1.6"/><circle cx="489.3" cy="224.6" r="1.6"/><circle cx="491.9" cy="226.3" r="1.6"/><circle cx="498.0" cy="227.2" r="1.6"/><circle cx="479.1" cy="144.9" r="1.6"/><circle cx="486.8" cy="144.2" r="1.6"/><circle cx="490.4" cy="146.3" r="1.6"/><circle cx="498.1" cy="144.9" r="1.6"/><circle cx="503.0" cy="145.6" r="1.6"/><circle cx="503.7" cy="147.7" r="1.6"/><circle cx="496.0" cy="201.8" r="1.6"/><circle cx="491.0" cy="206.0" r="1.6"/><circle cx="493.9" cy="207.4" r="1.6"/><circle cx="487.0" cy="58.2" r="1.6"/><circle cx="521.4" cy="58.2" r="1.6"/><circle cx="525.3" cy="57.4" r="1.6"/><circle cx="528.8" cy="56.1" r="1.6"/><circle cx="532.3" cy="56.1" r="1.6"/><circle cx="534.9" cy="53.5" r="1.6"/><circle cx="536.7" cy="57.0" r="1.6"/><circle cx="527.0" cy="67.9" r="1.6"/><circle cx="520.9" cy="74.6" r="1.6"/><circle cx="524.0" cy="72.8" r="1.6"/><circle cx="531.4" cy="78.0" r="1.6"/><circle cx="533.2" cy="78.0" r="1.6"/><circle cx="536.7" cy="77.2" r="1.6"/><circle cx="537.5" cy="79.8" r="1.6"/><circle cx="539.3" cy="78.0" r="1.6"/><circle cx="518.2" cy="81.2" r="1.6"/><circle cx="522.3" cy="79.5" r="1.6"/><circle cx="527.9" cy="82.5" r="1.6"/><circle cx="537.5" cy="85.1" r="1.6"/><circle cx="540.2" cy="85.1" r="1.6"/><circle cx="534.9" cy="86.8" r="1.6"/><circle cx="522.6" cy="88.2" r="1.6"/><circle cx="524.4" cy="90.4" r="1.6"/><circle cx="517.0" cy="90.4" r="1.6"/><circle cx="503.7" cy="96.5" r="1.6"/><circle cx="516.8" cy="97.7" r="1.6"/><circle cx="528.8" cy="96.5" r="1.6"/><circle cx="529.6" cy="100.0" r="1.6"/><circle cx="527.9" cy="101.8" r="1.6"/><circle cx="502.1" cy="107.9" r="1.6"/><circle cx="506.0" cy="109.6" r="1.6"/><circle cx="505.1" cy="110.5" r="1.6"/><circle cx="517.4" cy="107.0" r="1.6"/><circle cx="519.1" cy="107.0" r="1.6"/><circle cx="521.2" cy="111.4" r="1.6"/><circle cx="524.4" cy="107.0" r="1.6"/><circle cx="478.2" cy="116.3" r="1.6"/><circle cx="490.2" cy="116.1" r="1.6"/><circle cx="513.0" cy="117.5" r="1.6"/><circle cx="523.5" cy="117.5" r="1.6"/><circle cx="522.6" cy="121.9" r="1.6"/><circle cx="508.6" cy="121.9" r="1.6"/><circle cx="510.0" cy="123.7" r="1.6"/><circle cx="496.3" cy="123.7" r="1.6"/><circle cx="496.0" cy="127.2" r="1.6"/><circle cx="501.2" cy="127.7" r="1.6"/><circle cx="514.7" cy="124.6" r="1.6"/><circle cx="516.5" cy="127.2" r="1.6"/><circle cx="513.9" cy="131.6" r="1.6"/><circle cx="513.0" cy="132.5" r="1.6"/><circle cx="512.1" cy="134.2" r="1.6"/><circle cx="511.2" cy="135.1" r="1.6"/><circle cx="510.7" cy="139.5" r="1.6"/><circle cx="506.5" cy="141.2" r="1.6"/><circle cx="479.6" cy="144.7" r="1.6"/><circle cx="486.7" cy="144.2" r="1.6"/><circle cx="490.7" cy="146.1" r="1.6"/><circle cx="498.0" cy="144.7" r="1.6"/><circle cx="499.5" cy="146.1" r="1.6"/><circle cx="502.5" cy="145.6" r="1.6"/><circle cx="504.2" cy="146.5" r="1.6"/><circle cx="555.1" cy="60.9" r="1.6"/><circle cx="551.2" cy="79.8" r="1.6"/><circle cx="558.2" cy="91.6" r="1.6"/><circle cx="551.0" cy="95.6" r="1.6"/><circle cx="557.7" cy="95.6" r="1.6"/><circle cx="563.0" cy="97.4" r="1.6"/><circle cx="556.0" cy="100.0" r="1.6"/><circle cx="556.0" cy="102.6" r="1.6"/><circle cx="563.0" cy="101.8" r="1.6"/><circle cx="558.6" cy="104.4" r="1.6"/><circle cx="560.4" cy="106.1" r="1.6"/><circle cx="561.2" cy="107.9" r="1.6"/><circle cx="557.7" cy="108.8" r="1.6"/><circle cx="569.1" cy="110.5" r="1.6"/><circle cx="551.6" cy="110.5" r="1.6"/><circle cx="552.5" cy="112.3" r="1.6"/><circle cx="550.7" cy="114.9" r="1.6"/><circle cx="554.2" cy="114.9" r="1.6"/><circle cx="556.0" cy="115.8" r="1.6"/><circle cx="566.5" cy="117.5" r="1.6"/><circle cx="565.6" cy="120.2" r="1.6"/><circle cx="567.4" cy="129.0" r="1.6"/><circle cx="531.8" cy="45.4" r="1.6"/><circle cx="535.1" cy="52.1" r="1.6"/><circle cx="536.9" cy="50.9" r="1.6"/><circle cx="535.7" cy="54.0" r="1.6"/><circle cx="536.9" cy="56.4" r="1.6"/><circle cx="521.6" cy="58.2" r="1.6"/><circle cx="529.0" cy="55.8" r="1.6"/><circle cx="532.0" cy="56.4" r="1.6"/><circle cx="534.5" cy="55.2" r="1.6"/><circle cx="554.7" cy="61.1" r="1.6"/><circle cx="537.5" cy="63.8" r="1.6"/><circle cx="535.0" cy="65.6" r="1.6"/><circle cx="538.8" cy="66.8" r="1.6"/><circle cx="540.0" cy="69.3" r="1.6"/><circle cx="534.5" cy="69.3" r="1.6"/><circle cx="533.2" cy="70.5" r="1.6"/><circle cx="540.6" cy="72.4" r="1.6"/><circle cx="531.4" cy="72.4" r="1.6"/><circle cx="527.1" cy="67.8" r="1.6"/><circle cx="520.4" cy="74.8" r="1.6"/><circle cx="536.3" cy="76.7" r="1.6"/><circle cx="536.3" cy="80.4" r="1.6"/><circle cx="518.5" cy="81.0" r="1.6"/><circle cx="528.1" cy="82.2" r="1.6"/><circle cx="551.4" cy="79.7" r="1.6"/><circle cx="571.3" cy="80.6" r="1.6"/><circle cx="536.9" cy="85.9" r="1.6"/><circle cx="540.0" cy="85.9" r="1.6"/><circle cx="523.4" cy="88.9" r="1.6"/><circle cx="517.3" cy="90.2" r="1.6"/><circle cx="524.0" cy="90.8" r="1.6"/><circle cx="533.2" cy="87.7" r="1.6"/><circle cx="531.4" cy="90.2" r="1.6"/><circle cx="535.7" cy="90.2" r="1.6"/><circle cx="538.2" cy="91.4" r="1.6"/><circle cx="529.6" cy="93.9" r="1.6"/><circle cx="558.4" cy="91.4" r="1.6"/><circle cx="551.0" cy="95.1" r="1.6"/><circle cx="557.8" cy="95.1" r="1.6"/><circle cx="562.7" cy="97.5" r="1.6"/><circle cx="516.7" cy="97.5" r="1.6"/><circle cx="517.1" cy="90.1" r="1.6"/><circle cx="522.9" cy="89.2" r="1.6"/><circle cx="523.9" cy="90.3" r="1.6"/><circle cx="503.4" cy="96.4" r="1.6"/><circle cx="502.4" cy="108.2" r="1.6"/><circle cx="505.5" cy="109.7" r="1.6"/><circle cx="506.1" cy="110.3" r="1.6"/><circle cx="517.6" cy="107.6" r="1.6"/><circle cx="519.2" cy="107.1" r="1.6"/><circle cx="521.3" cy="111.5" r="1.6"/><circle cx="524.0" cy="106.6" r="1.6"/><circle cx="512.9" cy="117.8" r="1.6"/><circle cx="523.2" cy="117.8" r="1.6"/><circle cx="508.7" cy="121.8" r="1.6"/><circle cx="510.3" cy="123.9" r="1.6"/><circle cx="495.8" cy="123.4" r="1.6"/><circle cx="496.6" cy="126.6" r="1.6"/><circle cx="500.8" cy="127.6" r="1.6"/><circle cx="515.5" cy="124.5" r="1.6"/><circle cx="517.1" cy="126.1" r="1.6"/><circle cx="523.4" cy="122.4" r="1.6"/><circle cx="513.4" cy="130.3" r="1.6"/><circle cx="512.9" cy="131.8" r="1.6"/><circle cx="511.8" cy="133.4" r="1.6"/><circle cx="510.8" cy="134.5" r="1.6"/><circle cx="506.6" cy="141.3" r="1.6"/><circle cx="499.2" cy="144.5" r="1.6"/><circle cx="502.9" cy="144.5" r="1.6"/><circle cx="510.8" cy="144.0" r="1.6"/><circle cx="551.3" cy="95.3" r="1.6"/><circle cx="554.5" cy="99.7" r="1.6"/><circle cx="585.2" cy="105.3" r="1.6"/><circle cx="569.2" cy="110.7" r="1.6"/><circle cx="566.4" cy="117.5" r="1.6"/><circle cx="566.4" cy="119.3" r="1.6"/><circle cx="567.6" cy="128.9" r="1.6"/><circle cx="576.1" cy="128.9" r="1.6"/><circle cx="571.7" cy="132.1" r="1.6"/><circle cx="573.8" cy="133.3" r="1.6"/><circle cx="577.3" cy="135.4" r="1.6"/><circle cx="595.7" cy="134.2" r="1.6"/><circle cx="621.1" cy="139.1" r="1.6"/><circle cx="565.9" cy="140.4" r="1.6"/><circle cx="571.7" cy="139.0" r="1.6"/><circle cx="578.7" cy="143.3" r="1.6"/><circle cx="570.3" cy="144.2" r="1.6"/><circle cx="572.0" cy="146.5" r="1.6"/><circle cx="581.3" cy="147.4" r="1.6"/><circle cx="565.9" cy="146.5" r="1.6"/><circle cx="556.8" cy="120.7" r="1.6"/><circle cx="566.7" cy="120.0" r="1.6"/><circle cx="567.4" cy="128.7" r="1.6"/><circle cx="576.2" cy="128.7" r="1.6"/><circle cx="572.0" cy="131.9" r="1.6"/><circle cx="574.4" cy="133.3" r="1.6"/><circle cx="577.2" cy="135.2" r="1.6"/><circle cx="571.6" cy="138.9" r="1.6"/><circle cx="578.6" cy="143.2" r="1.6"/><circle cx="581.4" cy="147.4" r="1.6"/><circle cx="570.9" cy="143.9" r="1.6"/><circle cx="572.3" cy="146.7" r="1.6"/><circle cx="580.7" cy="152.3" r="1.6"/><circle cx="577.2" cy="156.8" r="1.6"/><circle cx="581.4" cy="157.2" r="1.6"/><circle cx="584.9" cy="159.0" r="1.6"/><circle cx="570.9" cy="156.2" r="1.6"/><circle cx="602.7" cy="161.1" r="1.6"/><circle cx="589.1" cy="164.6" r="1.6"/><circle cx="601.1" cy="169.5" r="1.6"/><circle cx="576.9" cy="173.8" r="1.6"/><circle cx="580.7" cy="175.4" r="1.6"/><circle cx="583.5" cy="174.0" r="1.6"/><circle cx="586.3" cy="172.6" r="1.6"/><circle cx="581.4" cy="178.9" r="1.6"/><circle cx="587.0" cy="181.1" r="1.6"/><circle cx="603.6" cy="188.1" r="1.6"/><circle cx="588.4" cy="188.8" r="1.6"/><circle cx="589.8" cy="191.6" r="1.6"/><circle cx="582.1" cy="191.6" r="1.6"/><circle cx="581.4" cy="194.4" r="1.6"/><circle cx="593.3" cy="196.5" r="1.6"/><circle cx="580.1" cy="152.1" r="1.6"/><circle cx="576.9" cy="156.7" r="1.6"/><circle cx="581.3" cy="157.9" r="1.6"/><circle cx="585.4" cy="158.8" r="1.6"/><circle cx="571.0" cy="156.1" r="1.6"/><circle cx="589.2" cy="164.4" r="1.6"/><circle cx="586.6" cy="172.8" r="1.6"/><circle cx="583.2" cy="174.6" r="1.6"/><circle cx="577.1" cy="173.7" r="1.6"/><circle cx="581.0" cy="177.2" r="1.6"/><circle cx="586.8" cy="181.1" r="1.6"/><circle cx="588.0" cy="189.5" r="1.6"/><circle cx="589.7" cy="188.6" r="1.6"/><circle cx="590.6" cy="192.1" r="1.6"/><circle cx="581.8" cy="191.2" r="1.6"/><circle cx="581.0" cy="195.6" r="1.6"/><circle cx="593.6" cy="196.8" r="1.6"/><circle cx="595.9" cy="200.9" r="1.6"/><circle cx="592.4" cy="202.6" r="1.6"/><circle cx="588.9" cy="204.4" r="1.6"/><circle cx="599.0" cy="206.1" r="1.6"/><circle cx="604.6" cy="211.1" r="1.6"/><circle cx="631.0" cy="205.8" r="1.6"/><circle cx="629.2" cy="207.0" r="1.6"/><circle cx="625.7" cy="213.7" r="1.6"/><circle cx="635.0" cy="215.4" r="1.6"/><circle cx="615.5" cy="215.3" r="1.6"/><circle cx="610.8" cy="220.2" r="1.6"/><circle cx="607.6" cy="222.3" r="1.6"/><circle cx="600.8" cy="221.6" r="1.6"/><circle cx="599.4" cy="215.3" r="1.6"/><circle cx="602.0" cy="216.7" r="1.6"/><circle cx="615.2" cy="223.3" r="1.6"/><circle cx="616.6" cy="226.1" r="1.6"/><circle cx="624.5" cy="222.5" r="1.6"/><circle cx="596.4" cy="231.1" r="1.6"/><circle cx="584.5" cy="229.8" r="1.6"/><circle cx="594.1" cy="219.3" r="1.6"/><circle cx="595.9" cy="217.5" r="1.6"/><circle cx="647.1" cy="160.5" r="1.6"/><circle cx="667.3" cy="158.0" r="1.6"/><circle cx="603.4" cy="187.8" r="1.6"/><circle cx="651.1" cy="187.2" r="1.6"/><circle cx="604.6" cy="211.0" r="1.6"/><circle cx="602.1" cy="216.6" r="1.6"/><circle cx="610.5" cy="220.0" r="1.6"/><circle cx="614.7" cy="223.1" r="1.6"/><circle cx="600.6" cy="221.5" r="1.6"/><circle cx="586.7" cy="190.6" r="1.6"/><circle cx="590.2" cy="191.8" r="1.6"/><circle cx="593.5" cy="196.8" r="1.6"/><circle cx="596.1" cy="200.5" r="1.6"/><circle cx="593.7" cy="201.7" r="1.6"/><circle cx="591.4" cy="201.7" r="1.6"/><circle cx="587.9" cy="204.0" r="1.6"/><circle cx="591.4" cy="207.5" r="1.6"/><circle cx="590.2" cy="209.9" r="1.6"/><circle cx="592.6" cy="212.8" r="1.6"/><circle cx="594.3" cy="213.4" r="1.6"/><circle cx="590.2" cy="215.1" r="1.6"/><circle cx="596.6" cy="218.0" r="1.6"/><circle cx="594.3" cy="219.2" r="1.6"/><circle cx="592.6" cy="220.4" r="1.6"/><circle cx="600.7" cy="221.5" r="1.6"/><circle cx="610.7" cy="220.1" r="1.6"/><circle cx="589.0" cy="225.6" r="1.6"/><circle cx="584.1" cy="230.3" r="1.6"/><circle cx="578.0" cy="235.0" r="1.6"/><circle cx="574.5" cy="237.3" r="1.6"/><circle cx="537.5" cy="63.2" r="1.6"/><circle cx="535.7" cy="65.6" r="1.6"/><circle cx="533.9" cy="67.5" r="1.6"/><circle cx="539.4" cy="66.8" r="1.6"/><circle cx="532.6" cy="69.9" r="1.6"/><circle cx="536.9" cy="69.3" r="1.6"/><circle cx="540.6" cy="69.3" r="1.6"/><circle cx="535.1" cy="71.1" r="1.6"/><circle cx="538.8" cy="71.8" r="1.6"/><circle cx="540.4" cy="72.4" r="1.6"/><circle cx="531.4" cy="72.4" r="1.6"/><circle cx="530.2" cy="77.9" r="1.6"/><circle cx="532.6" cy="77.3" r="1.6"/><circle cx="535.7" cy="76.7" r="1.6"/><circle cx="537.5" cy="78.5" r="1.6"/><circle cx="539.4" cy="79.1" r="1.6"/><circle cx="536.3" cy="80.4" r="1.6"/><circle cx="544.2" cy="123.2" r="1.6"/><circle cx="546.8" cy="122.8" r="1.6"/><circle cx="549.2" cy="123.5" r="1.6"/><circle cx="463.9" cy="98.8" r="1.6"/><circle cx="478.1" cy="116.6" r="1.6"/><circle cx="490.1" cy="116.0" r="1.6"/><circle cx="495.3" cy="123.3" r="1.6"/><circle cx="496.2" cy="126.8" r="1.6"/><circle cx="500.9" cy="127.5" r="1.6"/><circle cx="505.8" cy="110.7" r="1.6"/><circle cx="508.6" cy="122.6" r="1.6"/><circle cx="506.5" cy="141.2" r="1.6"/><circle cx="479.4" cy="144.7" r="1.6"/><circle cx="486.6" cy="144.0" r="1.6"/><circle cx="490.4" cy="146.5" r="1.6"/><circle cx="498.5" cy="144.7" r="1.6"/><circle cx="502.3" cy="145.8" r="1.6"/><circle cx="503.7" cy="147.2" r="1.6"/><circle cx="498.8" cy="147.9" r="1.6"/><circle cx="499.5" cy="152.1" r="1.6"/><circle cx="500.9" cy="154.9" r="1.6"/><circle cx="497.4" cy="155.6" r="1.6"/><circle cx="493.9" cy="159.8" r="1.6"/><circle cx="496.7" cy="159.1" r="1.6"/><circle cx="503.0" cy="159.8" r="1.6"/><circle cx="505.1" cy="157.7" r="1.6"/><circle cx="492.5" cy="164.7" r="1.6"/><circle cx="496.0" cy="164.0" r="1.6"/><circle cx="493.2" cy="167.5" r="1.6"/><circle cx="498.8" cy="166.1" r="1.6"/><circle cx="501.6" cy="165.4" r="1.6"/><circle cx="483.1" cy="170.6" r="1.6"/><circle cx="458.5" cy="173.4" r="1.6"/><circle cx="495.3" cy="171.8" r="1.6"/><circle cx="500.2" cy="174.6" r="1.6"/><circle cx="497.4" cy="175.3" r="1.6"/><circle cx="493.9" cy="176.0" r="1.6"/><circle cx="502.3" cy="172.5" r="1.6"/><circle cx="470.0" cy="183.0" r="1.6"/><circle cx="466.5" cy="185.5" r="1.6"/><circle cx="486.8" cy="181.6" r="1.6"/><circle cx="488.2" cy="184.4" r="1.6"/><circle cx="484.7" cy="187.9" r="1.6"/><circle cx="493.2" cy="185.8" r="1.6"/><circle cx="496.0" cy="187.9" r="1.6"/><circle cx="500.2" cy="183.0" r="1.6"/><circle cx="490.4" cy="180.2" r="1.6"/></g>
<line x1="370.50" y1="42.50" x2="681.60" y2="42.50" stroke="#c4c4c4" stroke-width="1"/>
<g fill="#3b9984">
<circle cx="516.6" cy="15.6" r="1.75"/><circle cx="519.0" cy="14.4" r="1.75"/>
<circle cx="534.6" cy="15.3" r="1.75"/>
<circle cx="526.8" cy="23.1" r="1.75"/>
<circle cx="538.7" cy="22.1" r="1.75"/>
<circle cx="537.3" cy="33.5" r="1.75"/>
<circle cx="527.1" cy="39.6" r="1.75"/>
<circle cx="534.9" cy="41.8" r="1.75"/>
</g>
<g stroke="#3b9984" stroke-width="0.9" fill="none"><path d="M534.6,15.3L555,12.7M526.8,23.1L521.2,27.8M527.1,39.6L520.0,43.2"/></g>
<text transform="translate(502.40 11.90) scale(1 1.05)" font-size="8.8" text-anchor="start" fill="#3b9984" font-weight="normal">cg24801123</text>
<text transform="translate(556.00 16.60) scale(1 1.05)" font-size="8.8" text-anchor="start" fill="#3b9984" font-weight="normal">cg14653390</text>
<text transform="translate(465.10 23.70) scale(1 1.05)" font-size="8.8" text-anchor="start" fill="#3b9984" font-weight="normal">cg12390344</text>
<text transform="translate(542.40 28.20) scale(1 1.05)" font-size="8.8" text-anchor="start" fill="#3b9984" font-weight="normal">cg21584627</text>
<text transform="translate(485.50 35.40) scale(1 1.05)" font-size="8.8" text-anchor="start" fill="#3b9984" font-weight="normal">cg24952584</text>
<text transform="translate(541.30 40.10) scale(1 1.05)" font-size="8.8" text-anchor="start" fill="#3b9984" font-weight="normal">cg21544975</text>
<text transform="translate(470.60 47.30) scale(1 1.05)" font-size="8.8" text-anchor="start" fill="#3b9984" font-weight="normal">cg15813594</text>
<text transform="translate(524.80 51.70) scale(1 1.05)" font-size="8.8" text-anchor="start" fill="#3b9984" font-weight="normal">cg12131279</text>
<line x1="370.50" y1="2.60" x2="370.50" y2="255.00" stroke="#3c3c3c" stroke-width="1.1"/>
<line x1="370.00" y1="254.50" x2="681.60" y2="254.50" stroke="#363636" stroke-width="1.1"/>
<path d="M368.10,243.20H370.50M368.10,184.04H370.50M368.10,124.88H370.50M368.10,65.72H370.50M368.10,6.56H370.50M397.90,254.50V256.90M471.50,254.50V256.90M545.10,254.50V256.90M618.70,254.50V256.90" stroke="#333" stroke-width="0.9" fill="none"/>
<text transform="translate(366.70 245.80) scale(1 1.08)" font-size="7.0" text-anchor="end" fill="#4d4d4d" font-weight="normal">0</text>
<text transform="translate(366.70 186.64) scale(1 1.08)" font-size="7.0" text-anchor="end" fill="#4d4d4d" font-weight="normal">2</text>
<text transform="translate(366.70 127.48) scale(1 1.08)" font-size="7.0" text-anchor="end" fill="#4d4d4d" font-weight="normal">4</text>
<text transform="translate(366.70 68.32) scale(1 1.08)" font-size="7.0" text-anchor="end" fill="#4d4d4d" font-weight="normal">6</text>
<text transform="translate(366.70 9.16) scale(1 1.08)" font-size="7.0" text-anchor="end" fill="#4d4d4d" font-weight="normal">8</text>
<text transform="translate(397.90 263.80) scale(1 1.1)" font-size="6.7" text-anchor="middle" fill="#4d4d4d" font-weight="normal">-0.050</text>
<text transform="translate(471.50 263.80) scale(1 1.1)" font-size="6.7" text-anchor="middle" fill="#4d4d4d" font-weight="normal">-0.025</text>
<text transform="translate(545.10 263.80) scale(1 1.1)" font-size="6.7" text-anchor="middle" fill="#4d4d4d" font-weight="normal">0.000</text>
<text transform="translate(618.70 263.80) scale(1 1.1)" font-size="6.7" text-anchor="middle" fill="#4d4d4d" font-weight="normal">0.025</text>
<text transform="translate(526.05 273.80) scale(1 1.06)" font-size="8.6" text-anchor="middle" fill="#111" font-weight="normal">Difference in DNA methylation</text>
<text x="358.20" y="128.55" font-size="8.6" text-anchor="middle" fill="#111" font-weight="normal" transform="rotate(-90 358.2 128.55)">-log10(P-value)</text>
<line x1="564.50" y1="284.70" x2="564.50" y2="536.50" stroke="#c6c6c6" stroke-width="1"/>
<g fill="#bebebe"><path d="M557.0,381.0L559.5,379.5L561.5,379.0L562.0,382.0L562.0,445.0L566.2,445.0L566.2,425.0L566.8,415.0L568.0,414.0L572.0,414.0L576.0,416.5L579.0,420.0L581.0,430.0L585.0,441.0L589.5,452.0L594.0,463.0L598.5,474.0L602.0,485.0L603.5,497.0L601.0,506.0L593.0,514.5L582.0,520.0L569.0,523.8L564.7,524.8L558.4,524.0L543.7,521.0L533.5,517.5L526.0,511.0L523.5,503.0L523.0,495.0L524.0,485.0L525.5,472.0L528.0,460.0L530.5,448.0L533.0,437.0L535.0,428.0L536.5,421.0L538.0,415.0L539.5,409.5L541.0,404.5L543.0,400.0L545.5,395.0L548.5,390.5L552.5,385.5Z"/><circle cx="527.1" cy="512.9" r="1.6"/><circle cx="512.6" cy="485.6" r="1.6"/><circle cx="519.9" cy="471.2" r="1.6"/><circle cx="521.5" cy="484.7" r="1.6"/><circle cx="519.7" cy="496.8" r="1.6"/><circle cx="512.0" cy="478.9" r="1.6"/><circle cx="525.1" cy="437.8" r="1.6"/><circle cx="524.9" cy="441.5" r="1.6"/><circle cx="528.6" cy="452.1" r="1.6"/><circle cx="517.9" cy="500.1" r="1.6"/><circle cx="538.6" cy="520.5" r="1.6"/><circle cx="527.1" cy="441.6" r="1.6"/><circle cx="529.2" cy="521.0" r="1.6"/><circle cx="524.3" cy="450.8" r="1.6"/><circle cx="524.4" cy="449.3" r="1.6"/><circle cx="532.2" cy="432.0" r="1.6"/><circle cx="520.9" cy="499.1" r="1.6"/><circle cx="531.7" cy="431.7" r="1.6"/><circle cx="521.2" cy="471.3" r="1.6"/><circle cx="529.7" cy="446.8" r="1.6"/><circle cx="530.4" cy="421.9" r="1.6"/><circle cx="515.5" cy="482.2" r="1.6"/><circle cx="521.4" cy="465.3" r="1.6"/><circle cx="534.0" cy="403.1" r="1.6"/><circle cx="548.4" cy="523.0" r="1.6"/><circle cx="523.2" cy="427.7" r="1.6"/><circle cx="561.4" cy="525.2" r="1.6"/><circle cx="521.8" cy="518.2" r="1.6"/><circle cx="518.6" cy="493.2" r="1.6"/><circle cx="531.5" cy="437.8" r="1.6"/><circle cx="533.7" cy="425.2" r="1.6"/><circle cx="529.2" cy="440.9" r="1.6"/><circle cx="529.0" cy="520.3" r="1.6"/><circle cx="514.4" cy="478.7" r="1.6"/><circle cx="537.4" cy="413.3" r="1.6"/><circle cx="519.2" cy="502.2" r="1.6"/><circle cx="536.3" cy="416.6" r="1.6"/><circle cx="515.3" cy="493.8" r="1.6"/><circle cx="523.9" cy="480.2" r="1.6"/><circle cx="547.7" cy="523.3" r="1.6"/><circle cx="521.0" cy="475.6" r="1.6"/><circle cx="538.5" cy="410.7" r="1.6"/><circle cx="520.9" cy="449.3" r="1.6"/><circle cx="532.0" cy="417.4" r="1.6"/><circle cx="524.2" cy="464.1" r="1.6"/><circle cx="527.8" cy="513.3" r="1.6"/><circle cx="515.6" cy="497.6" r="1.6"/><circle cx="516.3" cy="492.2" r="1.6"/><circle cx="532.3" cy="519.1" r="1.6"/><circle cx="521.4" cy="477.3" r="1.6"/><circle cx="535.8" cy="419.6" r="1.6"/><circle cx="524.2" cy="459.6" r="1.6"/><circle cx="540.8" cy="395.6" r="1.6"/><circle cx="514.0" cy="483.4" r="1.6"/><circle cx="539.6" cy="398.5" r="1.6"/><circle cx="518.3" cy="515.1" r="1.6"/><circle cx="522.4" cy="456.5" r="1.6"/><circle cx="525.4" cy="462.6" r="1.6"/><circle cx="554.5" cy="526.1" r="1.6"/><circle cx="525.2" cy="429.8" r="1.6"/><circle cx="514.9" cy="480.8" r="1.6"/><circle cx="532.7" cy="420.2" r="1.6"/><circle cx="513.8" cy="501.9" r="1.6"/><circle cx="533.9" cy="431.3" r="1.6"/><circle cx="519.4" cy="502.1" r="1.6"/><circle cx="520.7" cy="452.3" r="1.6"/><circle cx="518.1" cy="475.8" r="1.6"/><circle cx="520.9" cy="504.2" r="1.6"/><circle cx="517.1" cy="477.8" r="1.6"/><circle cx="524.1" cy="435.8" r="1.6"/><circle cx="533.2" cy="427.4" r="1.6"/><circle cx="528.3" cy="441.6" r="1.6"/><circle cx="540.4" cy="401.2" r="1.6"/><circle cx="526.0" cy="465.2" r="1.6"/><circle cx="521.7" cy="467.1" r="1.6"/><circle cx="522.8" cy="514.9" r="1.6"/><circle cx="527.9" cy="440.7" r="1.6"/><circle cx="522.0" cy="444.1" r="1.6"/><circle cx="519.3" cy="505.6" r="1.6"/><circle cx="534.1" cy="417.1" r="1.6"/><circle cx="520.7" cy="492.2" r="1.6"/><circle cx="526.4" cy="457.0" r="1.6"/><circle cx="533.1" cy="520.4" r="1.6"/><circle cx="516.3" cy="454.6" r="1.6"/><circle cx="516.8" cy="490.7" r="1.6"/><circle cx="523.9" cy="482.5" r="1.6"/><circle cx="520.1" cy="488.1" r="1.6"/><circle cx="530.0" cy="442.4" r="1.6"/><circle cx="533.1" cy="521.1" r="1.6"/><circle cx="516.2" cy="498.8" r="1.6"/><circle cx="539.4" cy="406.6" r="1.6"/><circle cx="535.1" cy="400.1" r="1.6"/><circle cx="524.2" cy="429.0" r="1.6"/><circle cx="524.3" cy="473.0" r="1.6"/><circle cx="521.3" cy="499.7" r="1.6"/><circle cx="519.7" cy="477.3" r="1.6"/><circle cx="533.7" cy="430.2" r="1.6"/><circle cx="521.6" cy="472.1" r="1.6"/><circle cx="519.0" cy="506.3" r="1.6"/><circle cx="528.3" cy="434.8" r="1.6"/><circle cx="516.7" cy="491.0" r="1.6"/><circle cx="514.4" cy="475.2" r="1.6"/><circle cx="523.9" cy="430.6" r="1.6"/><circle cx="560.3" cy="525.9" r="1.6"/><circle cx="551.7" cy="526.0" r="1.6"/><circle cx="529.4" cy="434.8" r="1.6"/><circle cx="528.1" cy="444.9" r="1.6"/><circle cx="532.7" cy="429.6" r="1.6"/><circle cx="533.6" cy="421.5" r="1.6"/><circle cx="520.4" cy="467.3" r="1.6"/><circle cx="523.6" cy="446.4" r="1.6"/><circle cx="521.2" cy="463.5" r="1.6"/><circle cx="522.0" cy="489.4" r="1.6"/><circle cx="513.0" cy="478.8" r="1.6"/><circle cx="525.7" cy="456.2" r="1.6"/><circle cx="518.2" cy="489.7" r="1.6"/><circle cx="524.4" cy="509.6" r="1.6"/><circle cx="514.4" cy="465.2" r="1.6"/><circle cx="512.2" cy="484.8" r="1.6"/><circle cx="526.0" cy="514.8" r="1.6"/><circle cx="532.4" cy="434.0" r="1.6"/><circle cx="548.9" cy="388.2" r="1.6"/><circle cx="513.5" cy="489.3" r="1.6"/><circle cx="520.1" cy="453.3" r="1.6"/><circle cx="525.2" cy="464.9" r="1.6"/><circle cx="539.4" cy="522.5" r="1.6"/><circle cx="532.5" cy="434.8" r="1.6"/><circle cx="512.3" cy="493.5" r="1.6"/><circle cx="529.3" cy="448.9" r="1.6"/><circle cx="517.1" cy="454.4" r="1.6"/><circle cx="528.6" cy="438.1" r="1.6"/><circle cx="531.7" cy="412.9" r="1.6"/><circle cx="518.4" cy="479.6" r="1.6"/><circle cx="518.6" cy="515.2" r="1.6"/><circle cx="526.7" cy="460.0" r="1.6"/><circle cx="533.7" cy="520.3" r="1.6"/><circle cx="525.4" cy="464.0" r="1.6"/><circle cx="520.6" cy="501.9" r="1.6"/><circle cx="517.3" cy="479.7" r="1.6"/><circle cx="528.1" cy="440.5" r="1.6"/><circle cx="518.9" cy="452.6" r="1.6"/><circle cx="541.6" cy="392.9" r="1.6"/><circle cx="526.0" cy="454.4" r="1.6"/><circle cx="529.6" cy="517.1" r="1.6"/><circle cx="521.4" cy="493.0" r="1.6"/><circle cx="517.7" cy="497.4" r="1.6"/><circle cx="519.0" cy="452.7" r="1.6"/><circle cx="524.4" cy="465.9" r="1.6"/><circle cx="517.4" cy="499.0" r="1.6"/><circle cx="527.5" cy="518.7" r="1.6"/><circle cx="530.8" cy="516.2" r="1.6"/><circle cx="519.6" cy="460.0" r="1.6"/><circle cx="522.3" cy="512.4" r="1.6"/><circle cx="518.8" cy="498.4" r="1.6"/><circle cx="524.3" cy="433.0" r="1.6"/><circle cx="522.1" cy="462.0" r="1.6"/><circle cx="512.7" cy="496.4" r="1.6"/><circle cx="532.1" cy="430.3" r="1.6"/><circle cx="524.1" cy="476.5" r="1.6"/><circle cx="530.3" cy="423.4" r="1.6"/><circle cx="553.6" cy="523.7" r="1.6"/><circle cx="517.2" cy="469.3" r="1.6"/><circle cx="517.1" cy="460.2" r="1.6"/><circle cx="521.0" cy="497.1" r="1.6"/><circle cx="532.7" cy="413.4" r="1.6"/><circle cx="519.6" cy="457.5" r="1.6"/><circle cx="520.6" cy="494.1" r="1.6"/><circle cx="527.0" cy="451.0" r="1.6"/><circle cx="517.6" cy="510.8" r="1.6"/><circle cx="523.3" cy="469.1" r="1.6"/><circle cx="520.6" cy="502.4" r="1.6"/><circle cx="523.2" cy="484.2" r="1.6"/><circle cx="521.2" cy="511.1" r="1.6"/><circle cx="522.2" cy="492.1" r="1.6"/><circle cx="521.3" cy="443.9" r="1.6"/><circle cx="516.8" cy="466.8" r="1.6"/><circle cx="525.7" cy="442.3" r="1.6"/><circle cx="523.2" cy="467.4" r="1.6"/><circle cx="530.8" cy="425.9" r="1.6"/><circle cx="541.6" cy="521.0" r="1.6"/><circle cx="547.2" cy="390.3" r="1.6"/><circle cx="521.9" cy="473.1" r="1.6"/><circle cx="558.8" cy="526.3" r="1.6"/><circle cx="547.1" cy="524.0" r="1.6"/><circle cx="515.6" cy="467.9" r="1.6"/><circle cx="524.4" cy="444.3" r="1.6"/><circle cx="525.0" cy="473.4" r="1.6"/><circle cx="540.2" cy="396.0" r="1.6"/><circle cx="523.4" cy="506.6" r="1.6"/><circle cx="520.1" cy="513.9" r="1.6"/><circle cx="521.8" cy="434.7" r="1.6"/><circle cx="521.4" cy="479.1" r="1.6"/><circle cx="514.1" cy="491.5" r="1.6"/><circle cx="520.4" cy="488.9" r="1.6"/><circle cx="525.6" cy="520.2" r="1.6"/><circle cx="513.1" cy="497.0" r="1.6"/><circle cx="521.9" cy="442.3" r="1.6"/><circle cx="527.9" cy="451.8" r="1.6"/><circle cx="524.7" cy="456.3" r="1.6"/><circle cx="532.9" cy="429.2" r="1.6"/><circle cx="520.9" cy="510.1" r="1.6"/><circle cx="522.4" cy="469.5" r="1.6"/><circle cx="530.6" cy="440.1" r="1.6"/><circle cx="515.6" cy="497.5" r="1.6"/><circle cx="528.0" cy="515.7" r="1.6"/><circle cx="536.0" cy="417.8" r="1.6"/><circle cx="538.0" cy="401.8" r="1.6"/><circle cx="543.8" cy="522.3" r="1.6"/><circle cx="522.6" cy="507.7" r="1.6"/><circle cx="513.1" cy="467.4" r="1.6"/><circle cx="538.2" cy="404.2" r="1.6"/><circle cx="528.4" cy="438.5" r="1.6"/><circle cx="521.8" cy="441.5" r="1.6"/><circle cx="532.7" cy="423.6" r="1.6"/><circle cx="539.5" cy="399.2" r="1.6"/><circle cx="547.6" cy="389.4" r="1.6"/><circle cx="522.1" cy="466.2" r="1.6"/><circle cx="535.8" cy="417.7" r="1.6"/><circle cx="548.6" cy="386.4" r="1.6"/><circle cx="526.1" cy="452.1" r="1.6"/><circle cx="523.3" cy="483.9" r="1.6"/><circle cx="523.4" cy="481.9" r="1.6"/><circle cx="524.8" cy="466.9" r="1.6"/><circle cx="521.1" cy="515.6" r="1.6"/><circle cx="527.7" cy="435.9" r="1.6"/><circle cx="512.1" cy="491.5" r="1.6"/><circle cx="520.0" cy="469.5" r="1.6"/><circle cx="518.0" cy="511.2" r="1.6"/><circle cx="522.0" cy="489.3" r="1.6"/><circle cx="519.9" cy="442.7" r="1.6"/><circle cx="535.3" cy="422.3" r="1.6"/><circle cx="526.7" cy="436.9" r="1.6"/><circle cx="532.9" cy="521.9" r="1.6"/><circle cx="527.3" cy="453.5" r="1.6"/><circle cx="530.5" cy="518.6" r="1.6"/><circle cx="556.2" cy="379.6" r="1.6"/><circle cx="523.7" cy="479.6" r="1.6"/><circle cx="521.3" cy="471.1" r="1.6"/><circle cx="525.8" cy="455.0" r="1.6"/><circle cx="524.8" cy="443.8" r="1.6"/><circle cx="527.9" cy="432.6" r="1.6"/><circle cx="544.5" cy="394.6" r="1.6"/><circle cx="552.0" cy="525.0" r="1.6"/><circle cx="517.7" cy="454.8" r="1.6"/><circle cx="517.8" cy="451.2" r="1.6"/><circle cx="516.1" cy="476.5" r="1.6"/><circle cx="521.0" cy="470.3" r="1.6"/><circle cx="521.8" cy="505.9" r="1.6"/><circle cx="537.8" cy="413.7" r="1.6"/><circle cx="522.5" cy="514.1" r="1.6"/><circle cx="524.2" cy="448.2" r="1.6"/><circle cx="541.9" cy="522.0" r="1.6"/><circle cx="548.9" cy="386.7" r="1.6"/><circle cx="524.0" cy="451.1" r="1.6"/><circle cx="524.8" cy="513.1" r="1.6"/><circle cx="538.4" cy="522.3" r="1.6"/><circle cx="519.7" cy="492.5" r="1.6"/><circle cx="533.7" cy="518.3" r="1.6"/><circle cx="541.4" cy="400.0" r="1.6"/><circle cx="520.4" cy="485.6" r="1.6"/><circle cx="525.8" cy="444.3" r="1.6"/><circle cx="533.4" cy="424.0" r="1.6"/><circle cx="523.1" cy="458.0" r="1.6"/><circle cx="526.1" cy="451.4" r="1.6"/><circle cx="530.8" cy="516.3" r="1.6"/><circle cx="519.5" cy="494.2" r="1.6"/><circle cx="515.4" cy="493.0" r="1.6"/><circle cx="516.7" cy="480.0" r="1.6"/><circle cx="529.3" cy="432.6" r="1.6"/><circle cx="555.0" cy="524.7" r="1.6"/><circle cx="517.8" cy="454.3" r="1.6"/><circle cx="516.0" cy="487.2" r="1.6"/><circle cx="530.8" cy="436.3" r="1.6"/><circle cx="533.5" cy="415.6" r="1.6"/><circle cx="518.1" cy="456.4" r="1.6"/><circle cx="521.8" cy="475.4" r="1.6"/><circle cx="523.9" cy="470.2" r="1.6"/><circle cx="531.9" cy="437.1" r="1.6"/><circle cx="532.8" cy="519.7" r="1.6"/><circle cx="520.6" cy="511.1" r="1.6"/><circle cx="513.8" cy="498.4" r="1.6"/><circle cx="518.4" cy="504.9" r="1.6"/><circle cx="525.2" cy="455.2" r="1.6"/><circle cx="519.4" cy="516.3" r="1.6"/><circle cx="531.2" cy="437.3" r="1.6"/><circle cx="520.5" cy="495.5" r="1.6"/><circle cx="529.8" cy="429.0" r="1.6"/><circle cx="532.0" cy="438.5" r="1.6"/><circle cx="519.5" cy="492.6" r="1.6"/><circle cx="517.2" cy="469.9" r="1.6"/><circle cx="524.1" cy="431.6" r="1.6"/><circle cx="514.5" cy="461.9" r="1.6"/><circle cx="529.3" cy="432.2" r="1.6"/><circle cx="516.2" cy="480.1" r="1.6"/><circle cx="517.1" cy="488.4" r="1.6"/><circle cx="534.1" cy="414.1" r="1.6"/><circle cx="522.2" cy="441.7" r="1.6"/><circle cx="514.8" cy="498.4" r="1.6"/><circle cx="518.2" cy="456.0" r="1.6"/><circle cx="523.5" cy="479.7" r="1.6"/><circle cx="520.3" cy="489.4" r="1.6"/><circle cx="523.4" cy="475.4" r="1.6"/><circle cx="516.9" cy="497.9" r="1.6"/><circle cx="519.6" cy="459.4" r="1.6"/><circle cx="526.0" cy="513.4" r="1.6"/><circle cx="519.4" cy="500.9" r="1.6"/><circle cx="531.4" cy="441.2" r="1.6"/><circle cx="516.3" cy="504.3" r="1.6"/><circle cx="521.5" cy="490.5" r="1.6"/><circle cx="520.5" cy="506.1" r="1.6"/><circle cx="528.3" cy="453.8" r="1.6"/><circle cx="522.8" cy="510.7" r="1.6"/><circle cx="527.3" cy="441.0" r="1.6"/><circle cx="516.5" cy="501.7" r="1.6"/><circle cx="522.5" cy="507.1" r="1.6"/><circle cx="548.3" cy="523.1" r="1.6"/><circle cx="522.0" cy="454.7" r="1.6"/><circle cx="523.1" cy="488.0" r="1.6"/><circle cx="564.0" cy="526.0" r="1.6"/><circle cx="531.1" cy="516.0" r="1.6"/><circle cx="604.5" cy="496.5" r="1.6"/><circle cx="606.3" cy="506.4" r="1.6"/><circle cx="585.7" cy="520.9" r="1.6"/><circle cx="568.2" cy="525.6" r="1.6"/><circle cx="609.8" cy="476.1" r="1.6"/><circle cx="589.7" cy="446.1" r="1.6"/><circle cx="599.1" cy="467.0" r="1.6"/><circle cx="602.4" cy="481.6" r="1.6"/><circle cx="608.0" cy="469.4" r="1.6"/><circle cx="597.0" cy="448.1" r="1.6"/><circle cx="595.9" cy="463.8" r="1.6"/><circle cx="602.4" cy="465.8" r="1.6"/><circle cx="602.3" cy="469.6" r="1.6"/><circle cx="602.0" cy="509.1" r="1.6"/><circle cx="564.3" cy="525.1" r="1.6"/><circle cx="571.6" cy="412.2" r="1.6"/><circle cx="603.6" cy="480.6" r="1.6"/><circle cx="584.1" cy="434.1" r="1.6"/><circle cx="571.4" cy="525.1" r="1.6"/><circle cx="607.0" cy="494.1" r="1.6"/><circle cx="581.2" cy="520.8" r="1.6"/><circle cx="600.4" cy="470.3" r="1.6"/><circle cx="578.1" cy="523.3" r="1.6"/><circle cx="605.7" cy="487.5" r="1.6"/><circle cx="608.4" cy="507.1" r="1.6"/><circle cx="605.5" cy="498.2" r="1.6"/><circle cx="593.0" cy="448.1" r="1.6"/><circle cx="608.8" cy="474.2" r="1.6"/><circle cx="586.6" cy="442.3" r="1.6"/><circle cx="602.7" cy="477.4" r="1.6"/><circle cx="583.6" cy="435.4" r="1.6"/><circle cx="599.1" cy="514.9" r="1.6"/><circle cx="602.5" cy="504.1" r="1.6"/><circle cx="578.0" cy="413.8" r="1.6"/><circle cx="572.3" cy="413.8" r="1.6"/><circle cx="594.9" cy="459.0" r="1.6"/><circle cx="606.5" cy="462.9" r="1.6"/><circle cx="578.0" cy="523.9" r="1.6"/><circle cx="605.3" cy="500.8" r="1.6"/><circle cx="565.3" cy="526.4" r="1.6"/><circle cx="581.3" cy="523.0" r="1.6"/><circle cx="569.4" cy="391.5" r="1.6"/><circle cx="604.5" cy="470.6" r="1.6"/><circle cx="605.3" cy="486.0" r="1.6"/><circle cx="605.7" cy="465.0" r="1.6"/><circle cx="606.1" cy="502.9" r="1.6"/><circle cx="599.4" cy="508.3" r="1.6"/><circle cx="602.4" cy="468.0" r="1.6"/><circle cx="581.8" cy="521.3" r="1.6"/><circle cx="596.1" cy="512.3" r="1.6"/><circle cx="594.9" cy="454.4" r="1.6"/><circle cx="599.1" cy="467.7" r="1.6"/><circle cx="601.8" cy="507.4" r="1.6"/><circle cx="593.9" cy="454.8" r="1.6"/><circle cx="584.7" cy="424.2" r="1.6"/><circle cx="597.6" cy="456.0" r="1.6"/><circle cx="589.2" cy="447.2" r="1.6"/><circle cx="598.9" cy="513.1" r="1.6"/><circle cx="605.9" cy="508.2" r="1.6"/><circle cx="596.2" cy="462.4" r="1.6"/><circle cx="600.5" cy="455.9" r="1.6"/><circle cx="606.8" cy="487.5" r="1.6"/><circle cx="606.7" cy="493.5" r="1.6"/><circle cx="606.5" cy="471.9" r="1.6"/><circle cx="584.9" cy="520.3" r="1.6"/><circle cx="604.2" cy="511.0" r="1.6"/><circle cx="597.3" cy="461.5" r="1.6"/><circle cx="599.2" cy="514.8" r="1.6"/><circle cx="604.6" cy="498.6" r="1.6"/><circle cx="596.8" cy="458.5" r="1.6"/><circle cx="602.8" cy="506.0" r="1.6"/><circle cx="612.3" cy="493.3" r="1.6"/><circle cx="603.8" cy="497.2" r="1.6"/><circle cx="582.7" cy="428.2" r="1.6"/><circle cx="590.6" cy="516.7" r="1.6"/><circle cx="604.6" cy="485.0" r="1.6"/><circle cx="603.0" cy="479.7" r="1.6"/><circle cx="603.8" cy="472.2" r="1.6"/><circle cx="600.5" cy="464.6" r="1.6"/><circle cx="602.1" cy="482.3" r="1.6"/><circle cx="597.6" cy="466.1" r="1.6"/><circle cx="596.0" cy="513.5" r="1.6"/><circle cx="598.0" cy="471.3" r="1.6"/><circle cx="595.6" cy="517.5" r="1.6"/><circle cx="597.5" cy="460.7" r="1.6"/><circle cx="582.2" cy="431.9" r="1.6"/><circle cx="584.6" cy="430.8" r="1.6"/><circle cx="603.7" cy="508.2" r="1.6"/><circle cx="591.7" cy="517.8" r="1.6"/><circle cx="594.8" cy="514.6" r="1.6"/><circle cx="581.8" cy="420.0" r="1.6"/><circle cx="569.0" cy="403.7" r="1.6"/><circle cx="571.3" cy="525.2" r="1.6"/><circle cx="603.6" cy="487.8" r="1.6"/><circle cx="583.0" cy="416.0" r="1.6"/><circle cx="608.6" cy="502.2" r="1.6"/><circle cx="609.4" cy="470.6" r="1.6"/><circle cx="573.7" cy="414.2" r="1.6"/><circle cx="600.8" cy="509.9" r="1.6"/><circle cx="574.8" cy="524.4" r="1.6"/><circle cx="604.0" cy="509.5" r="1.6"/><circle cx="607.8" cy="480.4" r="1.6"/><circle cx="592.1" cy="517.7" r="1.6"/><circle cx="607.0" cy="465.2" r="1.6"/><circle cx="598.4" cy="446.1" r="1.6"/><circle cx="590.0" cy="446.1" r="1.6"/><circle cx="591.5" cy="455.0" r="1.6"/><circle cx="603.4" cy="507.2" r="1.6"/><circle cx="594.9" cy="463.3" r="1.6"/><circle cx="596.7" cy="451.5" r="1.6"/><circle cx="610.6" cy="478.9" r="1.6"/><circle cx="599.2" cy="509.0" r="1.6"/><circle cx="607.1" cy="464.5" r="1.6"/><circle cx="567.3" cy="412.8" r="1.6"/><circle cx="605.0" cy="504.9" r="1.6"/><circle cx="601.0" cy="463.0" r="1.6"/><circle cx="598.0" cy="469.1" r="1.6"/><circle cx="607.1" cy="498.9" r="1.6"/><circle cx="601.5" cy="478.9" r="1.6"/><circle cx="609.6" cy="500.6" r="1.6"/><circle cx="603.3" cy="485.4" r="1.6"/><circle cx="612.2" cy="488.2" r="1.6"/><circle cx="589.4" cy="517.2" r="1.6"/><circle cx="603.0" cy="466.5" r="1.6"/><circle cx="589.7" cy="444.5" r="1.6"/><circle cx="595.1" cy="514.6" r="1.6"/><circle cx="611.3" cy="483.8" r="1.6"/><circle cx="609.5" cy="500.7" r="1.6"/><circle cx="587.0" cy="444.9" r="1.6"/><circle cx="600.5" cy="473.1" r="1.6"/><circle cx="593.8" cy="451.6" r="1.6"/><circle cx="574.7" cy="524.0" r="1.6"/><circle cx="579.0" cy="418.1" r="1.6"/><circle cx="597.1" cy="461.7" r="1.6"/><circle cx="607.5" cy="502.8" r="1.6"/><circle cx="603.1" cy="459.8" r="1.6"/><circle cx="600.3" cy="469.0" r="1.6"/><circle cx="609.6" cy="477.1" r="1.6"/><circle cx="595.3" cy="464.8" r="1.6"/><circle cx="590.5" cy="518.7" r="1.6"/><circle cx="582.7" cy="522.6" r="1.6"/><circle cx="570.3" cy="525.3" r="1.6"/><circle cx="608.3" cy="478.4" r="1.6"/><circle cx="602.1" cy="514.3" r="1.6"/><circle cx="566.7" cy="526.3" r="1.6"/><circle cx="604.3" cy="470.5" r="1.6"/><circle cx="597.1" cy="511.5" r="1.6"/><circle cx="587.2" cy="519.9" r="1.6"/><circle cx="588.8" cy="519.1" r="1.6"/><circle cx="603.3" cy="474.9" r="1.6"/><circle cx="602.4" cy="470.8" r="1.6"/><circle cx="586.2" cy="441.0" r="1.6"/><circle cx="604.3" cy="469.1" r="1.6"/><circle cx="612.8" cy="487.6" r="1.6"/><circle cx="601.7" cy="509.5" r="1.6"/><circle cx="602.3" cy="480.6" r="1.6"/><circle cx="606.0" cy="482.0" r="1.6"/><circle cx="582.8" cy="520.6" r="1.6"/><circle cx="608.9" cy="488.6" r="1.6"/><circle cx="589.5" cy="450.0" r="1.6"/><circle cx="598.1" cy="470.5" r="1.6"/><circle cx="602.6" cy="469.8" r="1.6"/><circle cx="605.2" cy="501.3" r="1.6"/><circle cx="606.9" cy="504.4" r="1.6"/><circle cx="605.1" cy="465.4" r="1.6"/><circle cx="593.7" cy="443.2" r="1.6"/><circle cx="603.2" cy="511.7" r="1.6"/><circle cx="571.6" cy="407.8" r="1.6"/><circle cx="599.5" cy="448.7" r="1.6"/><circle cx="604.5" cy="462.3" r="1.6"/><circle cx="611.0" cy="494.7" r="1.6"/><circle cx="609.1" cy="488.3" r="1.6"/><circle cx="603.4" cy="503.0" r="1.6"/><circle cx="605.5" cy="486.8" r="1.6"/><circle cx="592.4" cy="454.0" r="1.6"/><circle cx="608.5" cy="473.2" r="1.6"/><circle cx="566.7" cy="524.7" r="1.6"/><circle cx="603.2" cy="507.0" r="1.6"/><circle cx="606.0" cy="473.5" r="1.6"/><circle cx="606.4" cy="497.8" r="1.6"/><circle cx="601.7" cy="510.0" r="1.6"/><circle cx="602.6" cy="468.3" r="1.6"/><circle cx="567.9" cy="410.9" r="1.6"/><circle cx="603.4" cy="466.7" r="1.6"/><circle cx="598.8" cy="461.4" r="1.6"/><circle cx="592.0" cy="446.4" r="1.6"/><circle cx="585.6" cy="438.2" r="1.6"/><circle cx="609.1" cy="479.8" r="1.6"/><circle cx="600.4" cy="466.3" r="1.6"/><circle cx="587.3" cy="518.7" r="1.6"/><circle cx="601.7" cy="510.7" r="1.6"/><circle cx="608.7" cy="481.9" r="1.6"/><circle cx="591.9" cy="445.6" r="1.6"/><circle cx="605.1" cy="459.2" r="1.6"/><circle cx="599.3" cy="455.2" r="1.6"/><circle cx="606.7" cy="482.3" r="1.6"/><circle cx="594.1" cy="457.8" r="1.6"/><circle cx="601.7" cy="505.9" r="1.6"/><circle cx="596.0" cy="513.4" r="1.6"/><circle cx="604.7" cy="488.5" r="1.6"/><circle cx="569.3" cy="413.2" r="1.6"/><circle cx="573.3" cy="524.2" r="1.6"/><circle cx="595.4" cy="513.0" r="1.6"/><circle cx="591.8" cy="448.6" r="1.6"/><circle cx="607.0" cy="474.8" r="1.6"/><circle cx="564.4" cy="526.7" r="1.6"/><circle cx="570.0" cy="525.0" r="1.6"/><circle cx="600.5" cy="475.2" r="1.6"/><circle cx="605.0" cy="493.2" r="1.6"/><circle cx="601.3" cy="472.8" r="1.6"/><circle cx="608.3" cy="503.0" r="1.6"/><circle cx="597.8" cy="455.8" r="1.6"/><circle cx="567.8" cy="525.5" r="1.6"/><circle cx="594.2" cy="516.3" r="1.6"/><circle cx="596.9" cy="462.8" r="1.6"/><circle cx="597.7" cy="451.9" r="1.6"/><circle cx="592.0" cy="453.0" r="1.6"/><circle cx="596.8" cy="512.4" r="1.6"/><circle cx="580.7" cy="415.1" r="1.6"/><circle cx="596.6" cy="516.9" r="1.6"/><circle cx="612.2" cy="495.3" r="1.6"/><circle cx="605.6" cy="472.3" r="1.6"/><circle cx="605.2" cy="478.5" r="1.6"/><circle cx="598.9" cy="512.9" r="1.6"/><circle cx="590.9" cy="452.4" r="1.6"/><circle cx="602.0" cy="482.4" r="1.6"/><circle cx="607.9" cy="498.0" r="1.6"/><circle cx="607.0" cy="481.4" r="1.6"/><circle cx="592.1" cy="455.2" r="1.6"/><circle cx="594.8" cy="455.8" r="1.6"/><circle cx="610.7" cy="481.7" r="1.6"/><circle cx="589.3" cy="440.1" r="1.6"/><circle cx="590.2" cy="517.0" r="1.6"/><circle cx="578.8" cy="523.2" r="1.6"/><circle cx="607.1" cy="494.2" r="1.6"/><circle cx="581.3" cy="395.4" r="1.6"/><circle cx="597.0" cy="468.7" r="1.6"/><circle cx="610.5" cy="494.8" r="1.6"/><circle cx="584.0" cy="520.6" r="1.6"/><circle cx="589.5" cy="516.7" r="1.6"/><circle cx="581.8" cy="520.6" r="1.6"/><circle cx="584.0" cy="417.6" r="1.6"/><circle cx="603.5" cy="483.2" r="1.6"/><circle cx="591.1" cy="454.6" r="1.6"/><circle cx="583.6" cy="413.9" r="1.6"/><circle cx="568.1" cy="407.6" r="1.6"/><circle cx="598.2" cy="470.8" r="1.6"/><circle cx="606.6" cy="498.4" r="1.6"/><circle cx="595.7" cy="513.6" r="1.6"/><circle cx="604.0" cy="483.3" r="1.6"/><circle cx="568.6" cy="413.6" r="1.6"/><circle cx="589.1" cy="518.6" r="1.6"/><circle cx="574.5" cy="523.8" r="1.6"/><circle cx="567.4" cy="387.6" r="1.6"/><circle cx="589.7" cy="445.9" r="1.6"/><circle cx="596.8" cy="464.9" r="1.6"/><circle cx="587.1" cy="437.7" r="1.6"/><circle cx="606.6" cy="510.1" r="1.6"/><circle cx="596.3" cy="450.8" r="1.6"/><circle cx="606.7" cy="476.8" r="1.6"/><circle cx="577.7" cy="411.7" r="1.6"/><circle cx="597.9" cy="466.4" r="1.6"/><circle cx="596.4" cy="517.3" r="1.6"/><circle cx="605.1" cy="490.2" r="1.6"/><circle cx="601.7" cy="467.9" r="1.6"/><circle cx="593.4" cy="456.5" r="1.6"/><circle cx="605.3" cy="465.8" r="1.6"/><circle cx="599.4" cy="475.1" r="1.6"/><circle cx="586.3" cy="442.2" r="1.6"/><circle cx="593.6" cy="459.6" r="1.6"/><circle cx="609.5" cy="475.4" r="1.6"/><circle cx="607.7" cy="485.6" r="1.6"/><circle cx="598.7" cy="469.9" r="1.6"/><circle cx="607.5" cy="479.8" r="1.6"/><circle cx="587.9" cy="440.6" r="1.6"/><circle cx="603.2" cy="476.6" r="1.6"/><circle cx="599.4" cy="515.3" r="1.6"/><circle cx="575.2" cy="523.4" r="1.6"/><circle cx="574.8" cy="524.4" r="1.6"/><circle cx="602.9" cy="481.8" r="1.6"/><circle cx="603.4" cy="469.6" r="1.6"/><circle cx="609.5" cy="475.5" r="1.6"/><circle cx="588.8" cy="421.2" r="1.6"/><circle cx="602.3" cy="481.2" r="1.6"/><circle cx="605.0" cy="505.4" r="1.6"/><circle cx="594.9" cy="452.3" r="1.6"/><circle cx="604.8" cy="490.8" r="1.6"/><circle cx="596.0" cy="512.3" r="1.6"/><circle cx="595.4" cy="517.0" r="1.6"/><circle cx="606.6" cy="465.8" r="1.6"/><circle cx="594.9" cy="461.4" r="1.6"/><circle cx="603.0" cy="489.5" r="1.6"/><circle cx="567.9" cy="412.4" r="1.6"/><circle cx="596.0" cy="515.2" r="1.6"/><circle cx="595.1" cy="458.6" r="1.6"/><circle cx="583.4" cy="411.6" r="1.6"/><circle cx="591.5" cy="445.6" r="1.6"/><circle cx="607.0" cy="479.6" r="1.6"/><circle cx="604.2" cy="503.5" r="1.6"/><circle cx="608.0" cy="486.5" r="1.6"/><circle cx="582.4" cy="404.1" r="1.6"/><circle cx="580.0" cy="412.4" r="1.6"/><circle cx="571.4" cy="402.2" r="1.6"/><circle cx="582.4" cy="411.1" r="1.6"/><circle cx="576.7" cy="384.4" r="1.6"/><circle cx="574.0" cy="415.8" r="1.6"/><circle cx="568.8" cy="390.1" r="1.6"/><circle cx="583.2" cy="395.1" r="1.6"/><circle cx="570.5" cy="390.0" r="1.6"/><circle cx="582.4" cy="390.8" r="1.6"/><circle cx="574.3" cy="401.9" r="1.6"/><circle cx="580.7" cy="396.7" r="1.6"/><circle cx="568.4" cy="399.8" r="1.6"/><circle cx="567.6" cy="381.6" r="1.6"/><circle cx="570.2" cy="404.4" r="1.6"/><circle cx="571.8" cy="404.2" r="1.6"/><circle cx="569.8" cy="382.5" r="1.6"/><circle cx="567.4" cy="404.8" r="1.6"/><circle cx="578.0" cy="389.4" r="1.6"/><circle cx="569.3" cy="402.6" r="1.6"/><circle cx="577.2" cy="395.0" r="1.6"/><circle cx="569.6" cy="402.3" r="1.6"/><circle cx="576.4" cy="394.5" r="1.6"/><circle cx="569.8" cy="413.3" r="1.6"/><circle cx="581.7" cy="404.2" r="1.6"/><circle cx="557.2" cy="378.7" r="1.6"/><circle cx="551.1" cy="383.1" r="1.6"/><circle cx="559.7" cy="379.2" r="1.6"/><circle cx="555.3" cy="375.3" r="1.6"/><circle cx="556.5" cy="373.0" r="1.6"/><circle cx="559.5" cy="375.3" r="1.6"/><circle cx="560.7" cy="380.6" r="1.6"/><circle cx="555.2" cy="373.6" r="1.6"/><circle cx="554.6" cy="379.7" r="1.6"/><circle cx="553.0" cy="378.8" r="1.6"/><circle cx="560.6" cy="375.3" r="1.6"/><circle cx="559.3" cy="374.9" r="1.6"/><circle cx="558.9" cy="382.7" r="1.6"/><circle cx="556.4" cy="382.2" r="1.6"/><circle cx="549.8" cy="378.7" r="1.6"/><circle cx="560.7" cy="397.8" r="1.6"/><circle cx="560.4" cy="438.8" r="1.6"/><circle cx="561.0" cy="425.4" r="1.6"/><circle cx="561.0" cy="407.0" r="1.6"/><circle cx="561.2" cy="418.6" r="1.6"/><circle cx="561.3" cy="423.7" r="1.6"/><circle cx="561.4" cy="410.4" r="1.6"/><circle cx="560.4" cy="393.0" r="1.6"/><circle cx="561.2" cy="394.1" r="1.6"/><circle cx="561.1" cy="421.2" r="1.6"/><circle cx="560.3" cy="431.1" r="1.6"/><circle cx="560.2" cy="436.0" r="1.6"/><circle cx="561.4" cy="397.0" r="1.6"/><circle cx="561.2" cy="427.9" r="1.6"/><circle cx="567.8" cy="416.7" r="1.6"/><circle cx="567.5" cy="422.2" r="1.6"/><circle cx="567.9" cy="434.9" r="1.6"/><circle cx="568.1" cy="418.4" r="1.6"/><circle cx="567.6" cy="416.8" r="1.6"/><circle cx="567.4" cy="430.1" r="1.6"/><circle cx="463.6" cy="420.9" r="1.6"/><circle cx="467.9" cy="437.0" r="1.6"/><circle cx="470.5" cy="460.1" r="1.6"/><circle cx="422.8" cy="473.6" r="1.6"/><circle cx="386.1" cy="483.3" r="1.6"/><circle cx="446.1" cy="479.1" r="1.6"/><circle cx="463.1" cy="486.8" r="1.6"/><circle cx="471.0" cy="484.8" r="1.6"/><circle cx="469.5" cy="491.0" r="1.6"/><circle cx="446.3" cy="495.5" r="1.6"/><circle cx="464.7" cy="500.7" r="1.6"/><circle cx="463.7" cy="503.2" r="1.6"/><circle cx="552.5" cy="321.8" r="1.6"/><circle cx="556.0" cy="324.9" r="1.6"/><circle cx="557.7" cy="328.8" r="1.6"/><circle cx="551.6" cy="333.2" r="1.6"/><circle cx="518.8" cy="337.9" r="1.6"/><circle cx="542.8" cy="339.3" r="1.6"/><circle cx="543.7" cy="340.7" r="1.6"/><circle cx="557.2" cy="342.3" r="1.6"/><circle cx="548.6" cy="346.0" r="1.6"/><circle cx="546.3" cy="349.8" r="1.6"/><circle cx="548.9" cy="350.7" r="1.6"/><circle cx="515.1" cy="353.0" r="1.6"/><circle cx="529.6" cy="351.6" r="1.6"/><circle cx="534.9" cy="353.9" r="1.6"/><circle cx="554.2" cy="356.0" r="1.6"/><circle cx="539.3" cy="359.5" r="1.6"/><circle cx="552.5" cy="360.4" r="1.6"/><circle cx="552.5" cy="362.1" r="1.6"/><circle cx="557.2" cy="363.0" r="1.6"/><circle cx="541.9" cy="363.9" r="1.6"/><circle cx="540.2" cy="365.6" r="1.6"/><circle cx="538.4" cy="368.2" r="1.6"/><circle cx="534.9" cy="369.1" r="1.6"/><circle cx="535.8" cy="371.8" r="1.6"/><circle cx="546.3" cy="367.4" r="1.6"/><circle cx="550.7" cy="367.7" r="1.6"/><circle cx="552.5" cy="370.0" r="1.6"/><circle cx="506.0" cy="371.9" r="1.6"/><circle cx="540.2" cy="372.6" r="1.6"/><circle cx="545.4" cy="372.6" r="1.6"/><circle cx="548.1" cy="374.4" r="1.6"/><circle cx="545.4" cy="377.0" r="1.6"/><circle cx="540.2" cy="377.9" r="1.6"/><circle cx="550.7" cy="374.0" r="1.6"/><circle cx="554.0" cy="372.5" r="1.6"/><circle cx="557.0" cy="373.0" r="1.6"/><circle cx="559.5" cy="374.5" r="1.6"/><circle cx="561.0" cy="376.8" r="1.6"/><circle cx="558.0" cy="378.0" r="1.6"/><circle cx="553.0" cy="377.5" r="1.6"/><circle cx="526.1" cy="380.5" r="1.6"/><circle cx="514.2" cy="387.5" r="1.6"/><circle cx="542.8" cy="386.7" r="1.6"/><circle cx="536.7" cy="389.8" r="1.6"/><circle cx="547.2" cy="390.2" r="1.6"/><circle cx="527.0" cy="395.8" r="1.6"/><circle cx="533.2" cy="397.2" r="1.6"/><circle cx="520.9" cy="402.5" r="1.6"/><circle cx="528.8" cy="402.5" r="1.6"/><circle cx="531.4" cy="402.5" r="1.6"/><circle cx="508.6" cy="403.9" r="1.6"/><circle cx="498.9" cy="409.8" r="1.6"/><circle cx="498.9" cy="411.2" r="1.6"/><circle cx="506.8" cy="409.1" r="1.6"/><circle cx="512.1" cy="410.9" r="1.6"/><circle cx="513.9" cy="411.8" r="1.6"/><circle cx="506.8" cy="413.0" r="1.6"/><circle cx="511.2" cy="416.5" r="1.6"/><circle cx="534.0" cy="406.0" r="1.6"/><circle cx="535.8" cy="409.5" r="1.6"/><circle cx="541.1" cy="395.4" r="1.6"/><circle cx="540.2" cy="398.1" r="1.6"/><circle cx="569.1" cy="359.5" r="1.6"/><circle cx="568.2" cy="382.3" r="1.6"/><circle cx="579.2" cy="352.5" r="1.6"/><circle cx="577.5" cy="354.2" r="1.6"/><circle cx="596.2" cy="352.1" r="1.6"/><circle cx="573.1" cy="356.8" r="1.6"/><circle cx="570.4" cy="360.0" r="1.6"/><circle cx="574.8" cy="360.4" r="1.6"/><circle cx="584.5" cy="359.8" r="1.6"/><circle cx="574.8" cy="381.1" r="1.6"/><circle cx="575.2" cy="382.8" r="1.6"/><circle cx="582.2" cy="380.5" r="1.6"/><circle cx="568.7" cy="382.3" r="1.6"/><circle cx="570.4" cy="384.0" r="1.6"/><circle cx="577.5" cy="385.8" r="1.6"/><circle cx="576.6" cy="389.3" r="1.6"/><circle cx="586.2" cy="390.2" r="1.6"/><circle cx="571.3" cy="389.3" r="1.6"/><circle cx="570.4" cy="393.7" r="1.6"/><circle cx="576.6" cy="395.4" r="1.6"/><circle cx="575.7" cy="398.1" r="1.6"/><circle cx="596.2" cy="397.2" r="1.6"/><circle cx="585.4" cy="399.8" r="1.6"/><circle cx="581.0" cy="399.0" r="1.6"/><circle cx="580.1" cy="402.5" r="1.6"/><circle cx="577.5" cy="404.2" r="1.6"/><circle cx="604.3" cy="403.0" r="1.6"/><circle cx="585.0" cy="406.8" r="1.6"/><circle cx="595.9" cy="412.6" r="1.6"/><circle cx="588.0" cy="413.9" r="1.6"/><circle cx="567.8" cy="406.8" r="1.6"/><circle cx="571.3" cy="409.5" r="1.6"/><circle cx="574.0" cy="411.2" r="1.6"/><circle cx="584.5" cy="418.2" r="1.6"/><circle cx="588.9" cy="419.1" r="1.6"/><circle cx="488.9" cy="420.9" r="1.6"/><circle cx="496.3" cy="421.3" r="1.6"/><circle cx="497.4" cy="424.5" r="1.6"/><circle cx="502.6" cy="424.5" r="1.6"/><circle cx="503.7" cy="429.3" r="1.6"/><circle cx="511.1" cy="416.7" r="1.6"/><circle cx="511.1" cy="422.4" r="1.6"/><circle cx="507.5" cy="426.6" r="1.6"/><circle cx="525.2" cy="419.6" r="1.6"/><circle cx="522.2" cy="424.5" r="1.6"/><circle cx="515.3" cy="428.7" r="1.6"/><circle cx="516.3" cy="433.9" r="1.6"/><circle cx="510.0" cy="433.3" r="1.6"/><circle cx="514.2" cy="433.5" r="1.6"/><circle cx="485.8" cy="439.2" r="1.6"/><circle cx="490.6" cy="437.7" r="1.6"/><circle cx="502.2" cy="441.3" r="1.6"/><circle cx="501.6" cy="446.6" r="1.6"/><circle cx="497.8" cy="448.3" r="1.6"/><circle cx="507.5" cy="450.2" r="1.6"/><circle cx="492.1" cy="457.5" r="1.6"/><circle cx="471.1" cy="459.6" r="1.6"/><circle cx="479.5" cy="470.4" r="1.6"/><circle cx="487.9" cy="471.4" r="1.6"/><circle cx="484.7" cy="475.0" r="1.6"/><circle cx="501.6" cy="469.1" r="1.6"/><circle cx="504.7" cy="471.8" r="1.6"/><circle cx="508.9" cy="468.7" r="1.6"/><circle cx="512.1" cy="471.8" r="1.6"/><circle cx="498.4" cy="479.2" r="1.6"/><circle cx="504.7" cy="481.3" r="1.6"/><circle cx="507.9" cy="480.3" r="1.6"/><circle cx="510.0" cy="479.2" r="1.6"/><circle cx="471.7" cy="484.5" r="1.6"/><circle cx="486.8" cy="484.1" r="1.6"/><circle cx="491.1" cy="487.6" r="1.6"/><circle cx="495.3" cy="486.6" r="1.6"/><circle cx="480.5" cy="492.5" r="1.6"/><circle cx="480.5" cy="496.1" r="1.6"/><circle cx="488.9" cy="491.8" r="1.6"/><circle cx="487.9" cy="496.1" r="1.6"/><circle cx="493.0" cy="490.0" r="1.6"/><circle cx="497.0" cy="492.0" r="1.6"/><circle cx="500.0" cy="490.0" r="1.6"/><circle cx="503.5" cy="493.0" r="1.6"/><circle cx="507.0" cy="488.0" r="1.6"/><circle cx="510.0" cy="484.0" r="1.6"/><circle cx="480.5" cy="502.4" r="1.6"/><circle cx="481.6" cy="505.9" r="1.6"/><circle cx="491.1" cy="505.5" r="1.6"/><circle cx="498.4" cy="506.6" r="1.6"/><circle cx="498.4" cy="509.7" r="1.6"/><circle cx="502.6" cy="503.4" r="1.6"/><circle cx="506.8" cy="506.6" r="1.6"/><circle cx="588.4" cy="413.9" r="1.6"/><circle cx="595.9" cy="412.6" r="1.6"/><circle cx="584.5" cy="418.8" r="1.6"/><circle cx="588.9" cy="419.2" r="1.6"/><circle cx="591.7" cy="429.1" r="1.6"/><circle cx="599.2" cy="431.9" r="1.6"/><circle cx="596.1" cy="438.5" r="1.6"/><circle cx="602.0" cy="440.7" r="1.6"/><circle cx="608.6" cy="442.2" r="1.6"/><circle cx="613.4" cy="438.5" r="1.6"/><circle cx="642.1" cy="441.4" r="1.6"/><circle cx="597.0" cy="446.2" r="1.6"/><circle cx="600.9" cy="451.2" r="1.6"/><circle cx="635.6" cy="448.8" r="1.6"/><circle cx="628.3" cy="457.6" r="1.6"/><circle cx="603.1" cy="462.6" r="1.6"/><circle cx="607.5" cy="464.8" r="1.6"/><circle cx="617.4" cy="462.2" r="1.6"/><circle cx="618.5" cy="460.9" r="1.6"/><circle cx="620.7" cy="467.5" r="1.6"/><circle cx="613.0" cy="468.8" r="1.6"/><circle cx="615.2" cy="469.6" r="1.6"/><circle cx="613.0" cy="475.8" r="1.6"/><circle cx="615.2" cy="476.9" r="1.6"/><circle cx="642.6" cy="481.9" r="1.6"/><circle cx="619.1" cy="485.7" r="1.6"/><circle cx="615.2" cy="490.7" r="1.6"/><circle cx="621.8" cy="493.3" r="1.6"/><circle cx="626.1" cy="492.2" r="1.6"/><circle cx="629.4" cy="492.2" r="1.6"/><circle cx="633.8" cy="491.8" r="1.6"/><circle cx="637.1" cy="496.0" r="1.6"/><circle cx="632.3" cy="497.3" r="1.6"/><circle cx="617.4" cy="498.8" r="1.6"/><circle cx="615.2" cy="502.1" r="1.6"/><circle cx="619.6" cy="499.9" r="1.6"/><circle cx="621.8" cy="508.7" r="1.6"/><circle cx="626.1" cy="508.7" r="1.6"/><circle cx="642.1" cy="505.8" r="1.6"/><circle cx="613.0" cy="510.9" r="1.6"/><circle cx="609.7" cy="512.0" r="1.6"/><circle cx="604.2" cy="516.8" r="1.6"/><circle cx="597.6" cy="515.3" r="1.6"/><circle cx="595.4" cy="518.6" r="1.6"/><circle cx="604.2" cy="403.2" r="1.6"/><circle cx="601.7" cy="440.4" r="1.6"/><circle cx="608.4" cy="441.6" r="1.6"/><circle cx="613.2" cy="438.5" r="1.6"/><circle cx="659.5" cy="452.1" r="1.6"/><circle cx="669.0" cy="463.5" r="1.6"/><circle cx="654.7" cy="479.3" r="1.6"/><circle cx="662.4" cy="481.6" r="1.6"/><circle cx="618.9" cy="485.2" r="1.6"/><circle cx="620.0" cy="493.1" r="1.6"/><circle cx="636.8" cy="495.7" r="1.6"/><circle cx="631.5" cy="496.7" r="1.6"/><circle cx="655.1" cy="491.0" r="1.6"/><circle cx="657.2" cy="491.0" r="1.6"/><circle cx="649.4" cy="503.7" r="1.6"/><circle cx="622.1" cy="508.3" r="1.6"/><circle cx="612.6" cy="509.3" r="1.6"/><circle cx="609.5" cy="511.4" r="1.6"/><circle cx="614.7" cy="511.4" r="1.6"/><circle cx="604.2" cy="516.1" r="1.6"/><circle cx="616.8" cy="500.9" r="1.6"/><circle cx="618.9" cy="499.9" r="1.6"/><circle cx="615.8" cy="503.0" r="1.6"/><circle cx="539.2" cy="360.0" r="1.6"/><circle cx="552.4" cy="361.1" r="1.6"/><circle cx="557.3" cy="363.2" r="1.6"/><circle cx="540.3" cy="365.3" r="1.6"/><circle cx="542.4" cy="364.2" r="1.6"/><circle cx="534.5" cy="369.0" r="1.6"/><circle cx="538.2" cy="368.4" r="1.6"/><circle cx="535.5" cy="372.1" r="1.6"/><circle cx="545.7" cy="367.9" r="1.6"/><circle cx="550.3" cy="367.9" r="1.6"/><circle cx="552.4" cy="370.0" r="1.6"/><circle cx="540.0" cy="373.5" r="1.6"/><circle cx="544.5" cy="373.2" r="1.6"/><circle cx="547.1" cy="373.2" r="1.6"/><circle cx="546.6" cy="376.8" r="1.6"/><circle cx="549.2" cy="378.4" r="1.6"/><circle cx="553.9" cy="375.3" r="1.6"/><circle cx="557.1" cy="374.7" r="1.6"/><circle cx="559.7" cy="372.6" r="1.6"/><circle cx="559.2" cy="375.8" r="1.6"/><circle cx="561.8" cy="376.8" r="1.6"/><circle cx="540.3" cy="377.9" r="1.6"/><circle cx="526.4" cy="380.7" r="1.6"/><circle cx="515.5" cy="387.9" r="1.6"/><circle cx="542.6" cy="386.8" r="1.6"/><circle cx="536.6" cy="390.0" r="1.6"/><circle cx="546.6" cy="390.5" r="1.6"/><circle cx="527.1" cy="395.8" r="1.6"/><circle cx="533.4" cy="397.1" r="1.6"/><circle cx="520.3" cy="402.6" r="1.6"/><circle cx="540.8" cy="394.7" r="1.6"/><circle cx="540.3" cy="396.8" r="1.6"/><circle cx="532.9" cy="413.2" r="1.6"/><circle cx="515.5" cy="411.6" r="1.6"/><circle cx="524.5" cy="419.0" r="1.6"/><circle cx="532.4" cy="417.9" r="1.6"/><circle cx="569.7" cy="360.0" r="1.6"/><circle cx="573.9" cy="360.0" r="1.6"/><circle cx="568.7" cy="382.1" r="1.6"/><circle cx="569.7" cy="383.7" r="1.6"/><circle cx="574.0" cy="381.0" r="1.6"/><circle cx="582.3" cy="380.9" r="1.6"/><circle cx="586.1" cy="390.4" r="1.6"/><circle cx="596.3" cy="397.4" r="1.6"/><circle cx="585.3" cy="399.8" r="1.6"/><circle cx="580.9" cy="399.0" r="1.6"/><circle cx="584.9" cy="407.0" r="1.6"/><circle cx="595.8" cy="412.6" r="1.6"/><circle cx="588.2" cy="413.5" r="1.6"/><circle cx="584.4" cy="418.2" r="1.6"/><circle cx="588.8" cy="418.8" r="1.6"/></g>
<line x1="372.00" y1="319.50" x2="682.90" y2="319.50" stroke="#c4c4c4" stroke-width="1"/>
<g fill="#3b9984"><circle cx="546.4" cy="295.7" r="1.75"/><circle cx="535.2" cy="313.7" r="1.75"/></g>
<text transform="translate(549.90 293.50) scale(1 1.05)" font-size="8.8" text-anchor="start" fill="#3b9984" font-weight="normal">cg02121104</text>
<text transform="translate(502.90 324.20) scale(1 1.05)" font-size="8.8" text-anchor="start" fill="#3b9984" font-weight="normal">cg12390344</text>
<line x1="372.00" y1="284.70" x2="372.00" y2="537.00" stroke="#2a2a2a" stroke-width="1.1"/>
<line x1="371.50" y1="536.50" x2="682.90" y2="536.50" stroke="#363636" stroke-width="1.1"/>
<path d="M369.60,525.20H372.00M369.60,464.64H372.00M369.60,404.08H372.00M369.60,343.52H372.00M381.90,536.50V538.90M442.80,536.50V538.90M503.70,536.50V538.90M564.60,536.50V538.90M625.50,536.50V538.90" stroke="#333" stroke-width="0.9" fill="none"/>
<text transform="translate(368.20 527.80) scale(1 1.08)" font-size="7.0" text-anchor="end" fill="#4d4d4d" font-weight="normal">0</text>
<text transform="translate(368.20 467.24) scale(1 1.08)" font-size="7.0" text-anchor="end" fill="#4d4d4d" font-weight="normal">2</text>
<text transform="translate(368.20 406.68) scale(1 1.08)" font-size="7.0" text-anchor="end" fill="#4d4d4d" font-weight="normal">4</text>
<text transform="translate(368.20 346.12) scale(1 1.08)" font-size="7.0" text-anchor="end" fill="#4d4d4d" font-weight="normal">6</text>
<text transform="translate(381.90 545.80) scale(1 1.1)" font-size="6.7" text-anchor="middle" fill="#4d4d4d" font-weight="normal">-0.06</text>
<text transform="translate(442.80 545.80) scale(1 1.1)" font-size="6.7" text-anchor="middle" fill="#4d4d4d" font-weight="normal">-0.04</text>
<text transform="translate(503.70 545.80) scale(1 1.1)" font-size="6.7" text-anchor="middle" fill="#4d4d4d" font-weight="normal">-0.02</text>
<text transform="translate(564.60 545.80) scale(1 1.1)" font-size="6.7" text-anchor="middle" fill="#4d4d4d" font-weight="normal">0.00</text>
<text transform="translate(625.50 545.80) scale(1 1.1)" font-size="6.7" text-anchor="middle" fill="#4d4d4d" font-weight="normal">0.02</text>
<text transform="translate(527.45 555.80) scale(1 1.06)" font-size="8.6" text-anchor="middle" fill="#111" font-weight="normal">Difference in DNA methylation</text>
<text x="361.00" y="410.60" font-size="8.6" text-anchor="middle" fill="#111" font-weight="normal" transform="rotate(-90 361.0 410.6)">-log10(P-value)</text>
</svg>
</body></html>
